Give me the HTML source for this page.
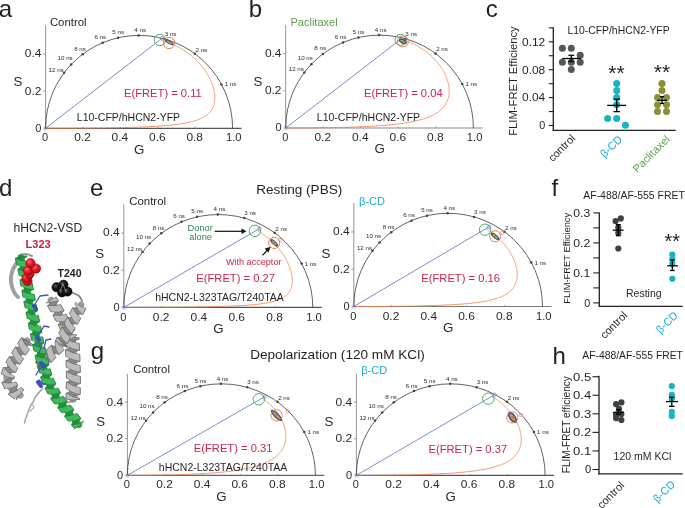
<!DOCTYPE html>
<html><head><meta charset="utf-8"><style>
html,body{margin:0;padding:0;background:#fff;width:685px;height:508px;overflow:hidden}
svg{position:absolute;left:0;top:0;font-family:"Liberation Sans",sans-serif;will-change:transform}
</style></head><body>
<svg width="685" height="508" viewBox="0 0 685 508">
<line x1="45.60" y1="128.30" x2="45.60" y2="25.18" stroke="#8a8a8a" stroke-width="0.9" />
<line x1="43.10" y1="91.14" x2="45.60" y2="91.14" stroke="#808080" stroke-width="0.8" />
<line x1="43.10" y1="53.98" x2="45.60" y2="53.98" stroke="#808080" stroke-width="0.8" />
<line x1="44.60" y1="128.30" x2="241.58" y2="128.30" stroke="#555" stroke-width="1.2" />
<line x1="83.00" y1="128.30" x2="83.00" y2="126.80" stroke="#808080" stroke-width="0.7" />
<line x1="120.40" y1="128.30" x2="120.40" y2="126.80" stroke="#808080" stroke-width="0.7" />
<line x1="157.80" y1="128.30" x2="157.80" y2="126.80" stroke="#808080" stroke-width="0.7" />
<line x1="195.20" y1="128.30" x2="195.20" y2="126.80" stroke="#808080" stroke-width="0.7" />
<text x="45.10" y="141.40" font-size="11" text-anchor="middle" fill="#2a2a2a" font-weight="normal" >0</text>
<text x="82.50" y="141.40" font-size="11" text-anchor="middle" fill="#2a2a2a" font-weight="normal"  textLength="16.6" lengthAdjust="spacingAndGlyphs">0.2</text>
<text x="119.90" y="141.40" font-size="11" text-anchor="middle" fill="#2a2a2a" font-weight="normal"  textLength="16.6" lengthAdjust="spacingAndGlyphs">0.4</text>
<text x="157.30" y="141.40" font-size="11" text-anchor="middle" fill="#2a2a2a" font-weight="normal"  textLength="16.6" lengthAdjust="spacingAndGlyphs">0.6</text>
<text x="194.70" y="141.40" font-size="11" text-anchor="middle" fill="#2a2a2a" font-weight="normal"  textLength="16.6" lengthAdjust="spacingAndGlyphs">0.8</text>
<text x="233.80" y="141.40" font-size="11" text-anchor="middle" fill="#2a2a2a" font-weight="normal"  textLength="15.6" lengthAdjust="spacingAndGlyphs">1.0</text>
<text x="41.40" y="131.70" font-size="11" text-anchor="end" fill="#2a2a2a" font-weight="normal" >0</text>
<text x="41.40" y="94.54" font-size="11" text-anchor="end" fill="#2a2a2a" font-weight="normal"  textLength="16.6" lengthAdjust="spacingAndGlyphs">0.2</text>
<text x="41.40" y="57.38" font-size="11" text-anchor="end" fill="#2a2a2a" font-weight="normal"  textLength="16.6" lengthAdjust="spacingAndGlyphs">0.4</text>
<text x="17.95" y="86.00" font-size="13.3" text-anchor="middle" fill="#2a2a2a" font-weight="normal" >S</text>
<text x="139.10" y="153.70" font-size="13.3" text-anchor="middle" fill="#2a2a2a" font-weight="normal" >G</text>
<path d="M45.60,128.30 A93.50,92.90 0 0 1 232.60,128.30" stroke="#3a3a3a" fill="none" stroke-width="0.8" />
<circle cx="221.49" cy="84.38" r="1.25" fill="#444" stroke="none" stroke-width="1" />
<text x="230.49" y="86.48" font-size="6.2" text-anchor="middle" fill="#2a2a2a" font-weight="normal" >1 ns</text>
<circle cx="194.88" cy="53.74" r="1.25" fill="#444" stroke="none" stroke-width="1" />
<text x="201.38" y="51.64" font-size="6.2" text-anchor="middle" fill="#2a2a2a" font-weight="normal" >2 ns</text>
<circle cx="164.82" cy="38.98" r="1.25" fill="#444" stroke="none" stroke-width="1" />
<text x="170.62" y="36.08" font-size="6.2" text-anchor="middle" fill="#2a2a2a" font-weight="normal" >3 ns</text>
<circle cx="138.60" cy="35.40" r="1.25" fill="#444" stroke="none" stroke-width="1" />
<text x="140.20" y="32.25" font-size="6.2" text-anchor="middle" fill="#2a2a2a" font-weight="normal" >4 ns</text>
<circle cx="118.10" cy="37.77" r="1.25" fill="#444" stroke="none" stroke-width="1" />
<text x="118.20" y="34.27" font-size="6.2" text-anchor="middle" fill="#2a2a2a" font-weight="normal" >5 ns</text>
<circle cx="102.72" cy="42.72" r="1.25" fill="#444" stroke="none" stroke-width="1" />
<text x="100.32" y="39.32" font-size="6.2" text-anchor="middle" fill="#2a2a2a" font-weight="normal" >6 ns</text>
<circle cx="82.68" cy="54.22" r="1.25" fill="#444" stroke="none" stroke-width="1" />
<text x="79.98" y="50.72" font-size="6.2" text-anchor="middle" fill="#2a2a2a" font-weight="normal" >8 ns</text>
<circle cx="71.16" cy="64.48" r="1.25" fill="#444" stroke="none" stroke-width="1" />
<text x="65.16" y="60.38" font-size="6.2" text-anchor="middle" fill="#2a2a2a" font-weight="normal" >10 ns</text>
<circle cx="64.12" cy="72.80" r="1.25" fill="#444" stroke="none" stroke-width="1" />
<text x="56.12" y="71.70" font-size="6.2" text-anchor="middle" fill="#2a2a2a" font-weight="normal" >12 ns</text>
<path d="M160.50,39.80 L160.67,39.85 L160.84,39.89 L161.01,39.94 L161.18,39.99 L161.35,40.04 L161.52,40.09 L161.69,40.14 L161.86,40.19 L162.03,40.24 L162.20,40.29 L162.37,40.34 L162.54,40.39 L162.71,40.45 L162.88,40.50 L163.05,40.55 L163.22,40.60 L163.39,40.66 L163.56,40.71 L163.73,40.77 L163.91,40.82 L164.08,40.88 L164.25,40.93 L164.42,40.99 L164.59,41.05 L164.76,41.10 L164.94,41.16 L165.11,41.22 L165.28,41.28 L165.45,41.34 L165.63,41.40 L165.80,41.46 L165.97,41.52 L166.15,41.58 L166.32,41.64 L166.49,41.70 L166.67,41.76 L166.84,41.83 L167.01,41.89 L167.19,41.95 L167.36,42.02 L167.53,42.08 L167.71,42.15 L167.88,42.21 L168.06,42.28 L168.23,42.35 L168.41,42.41 L168.58,42.48 L168.76,42.55 L168.93,42.62 L169.10,42.69 L169.28,42.75 L169.45,42.82 L169.63,42.89 L169.80,42.97 L169.98,43.04 L170.16,43.11 L170.33,43.18 L170.51,43.25 L170.68,43.33 L170.86,43.40 L171.03,43.47 L171.21,43.55 L171.38,43.62 L171.56,43.70 L171.74,43.78 L171.91,43.85 L172.09,43.93 L172.26,44.01 L172.44,44.08 L172.62,44.16 L172.79,44.24 L172.97,44.32 L173.15,44.40 L173.32,44.48 L173.50,44.56 L173.68,44.65 L173.85,44.73 L174.03,44.81 L174.21,44.89 L174.38,44.98 L174.56,45.06 L174.74,45.15 L174.91,45.23 L175.09,45.32 L175.27,45.40 L175.44,45.49 L175.62,45.58 L175.80,45.67 L175.98,45.75 L176.15,45.84 L176.33,45.93 L176.51,46.02 L176.68,46.11 L176.86,46.21 L177.04,46.30 L177.22,46.39 L177.39,46.48 L177.57,46.58 L177.75,46.67 L177.92,46.76 L178.10,46.86 L178.28,46.95 L178.46,47.05 L178.63,47.15 L178.81,47.24 L178.99,47.34 L179.16,47.44 L179.34,47.54 L179.52,47.64 L179.70,47.74 L179.87,47.84 L180.05,47.94 L180.23,48.04 L180.40,48.14 L180.58,48.25 L180.76,48.35 L180.93,48.45 L181.11,48.56 L181.29,48.66 L181.47,48.77 L181.64,48.87 L181.82,48.98 L182.00,49.09 L182.17,49.20 L182.35,49.30 L182.53,49.41 L182.70,49.52 L182.88,49.63 L183.05,49.74 L183.23,49.85 L183.41,49.97 L183.58,50.08 L183.76,50.19 L183.93,50.31 L184.11,50.42 L184.29,50.53 L184.46,50.65 L184.64,50.77 L184.81,50.88 L184.99,51.00 L185.16,51.12 L185.34,51.24 L185.51,51.35 L185.69,51.47 L185.86,51.59 L186.04,51.71 L186.21,51.84 L186.39,51.96 L186.56,52.08 L186.74,52.20 L186.91,52.33 L187.09,52.45 L187.26,52.58 L187.43,52.70 L187.61,52.83 L187.78,52.96 L187.95,53.08 L188.13,53.21 L188.30,53.34 L188.47,53.47 L188.65,53.60 L188.82,53.73 L188.99,53.86 L189.16,53.99 L189.34,54.12 L189.51,54.26 L189.68,54.39 L189.85,54.52 L190.02,54.66 L190.20,54.79 L190.37,54.93 L190.54,55.07 L190.71,55.20 L190.88,55.34 L191.05,55.48 L191.22,55.62 L191.39,55.76 L191.56,55.90 L191.73,56.04 L191.90,56.18 L192.07,56.32 L192.24,56.47 L192.41,56.61 L192.57,56.75 L192.74,56.90 L192.91,57.04 L193.08,57.19 L193.25,57.34 L193.41,57.48 L193.58,57.63 L193.75,57.78 L193.91,57.93 L194.08,58.08 L194.25,58.23 L194.41,58.38 L194.58,58.53 L194.74,58.69 L194.91,58.84 L195.07,58.99 L195.24,59.15 L195.40,59.30 L195.56,59.46 L195.73,59.61 L195.89,59.77 L196.05,59.93 L196.22,60.09 L196.38,60.24 L196.54,60.40 L196.70,60.56 L196.86,60.72 L197.03,60.89 L197.19,61.05 L197.35,61.21 L197.51,61.37 L197.67,61.54 L197.83,61.70 L197.99,61.87 L198.14,62.03 L198.30,62.20 L198.46,62.37 L198.62,62.53 L198.77,62.70 L198.93,62.87 L199.09,63.04 L199.24,63.21 L199.40,63.38 L199.56,63.55 L199.71,63.73 L199.86,63.90 L200.02,64.07 L200.17,64.25 L200.33,64.42 L200.48,64.60 L200.63,64.77 L200.78,64.95 L200.93,65.13 L201.09,65.31 L201.24,65.48 L201.39,65.66 L201.54,65.84 L201.68,66.02 L201.83,66.21 L201.98,66.39 L202.13,66.57 L202.28,66.75 L202.42,66.94 L202.57,67.12 L202.72,67.31 L202.86,67.49 L203.01,67.68 L203.15,67.87 L203.30,68.05 L203.44,68.24 L203.58,68.43 L203.72,68.62 L203.87,68.81 L204.01,69.00 L204.15,69.19 L204.29,69.39 L204.43,69.58 L204.57,69.77 L204.70,69.97 L204.84,70.16 L204.98,70.36 L205.12,70.55 L205.25,70.75 L205.39,70.95 L205.52,71.15 L205.66,71.34 L205.79,71.54 L205.92,71.74 L206.06,71.94 L206.19,72.14 L206.32,72.35 L206.45,72.55 L206.58,72.75 L206.71,72.95 L206.84,73.16 L206.97,73.36 L207.09,73.57 L207.22,73.78 L207.35,73.98 L207.47,74.19 L207.59,74.40 L207.72,74.61 L207.84,74.82 L207.96,75.03 L208.09,75.24 L208.21,75.45 L208.33,75.66 L208.45,75.87 L208.56,76.08 L208.68,76.30 L208.80,76.51 L208.92,76.73 L209.03,76.94 L209.15,77.16 L209.26,77.37 L209.37,77.59 L209.48,77.81 L209.60,78.03 L209.71,78.25 L209.82,78.46 L209.92,78.69 L210.03,78.91 L210.14,79.13 L210.25,79.35 L210.35,79.57 L210.46,79.79 L210.56,80.02 L210.66,80.24 L210.76,80.47 L210.86,80.69 L210.96,80.92 L211.06,81.15 L211.16,81.37 L211.26,81.60 L211.35,81.83 L211.45,82.06 L211.54,82.29 L211.64,82.52 L211.73,82.75 L211.82,82.98 L211.91,83.21 L212.00,83.44 L212.08,83.68 L212.17,83.91 L212.26,84.14 L212.34,84.38 L212.42,84.61 L212.51,84.85 L212.59,85.08 L212.67,85.32 L212.75,85.56 L212.82,85.80 L212.90,86.03 L212.98,86.27 L213.05,86.51 L213.12,86.75 L213.19,86.99 L213.26,87.23 L213.33,87.47 L213.40,87.72 L213.47,87.96 L213.53,88.20 L213.60,88.45 L213.66,88.69 L213.72,88.93 L213.78,89.18 L213.84,89.43 L213.89,89.67 L213.95,89.92 L214.00,90.17 L214.05,90.41 L214.11,90.66 L214.16,90.91 L214.20,91.16 L214.25,91.41 L214.29,91.66 L214.34,91.91 L214.38,92.16 L214.42,92.41 L214.46,92.66 L214.49,92.92 L214.53,93.17 L214.56,93.42 L214.59,93.68 L214.62,93.93 L214.65,94.19 L214.68,94.44 L214.70,94.70 L214.72,94.95 L214.74,95.21 L214.76,95.47 L214.78,95.72 L214.79,95.98 L214.80,96.24 L214.82,96.50 L214.82,96.76 L214.83,97.02 L214.83,97.28 L214.84,97.54 L214.83,97.80 L214.83,98.06 L214.83,98.32 L214.82,98.58 L214.81,98.85 L214.80,99.11 L214.78,99.37 L214.76,99.63 L214.74,99.90 L214.72,100.16 L214.70,100.43 L214.67,100.69 L214.64,100.96 L214.60,101.22 L214.57,101.49 L214.53,101.76 L214.48,102.02 L214.44,102.29 L214.39,102.56 L214.34,102.83 L214.28,103.09 L214.22,103.36 L214.16,103.63 L214.09,103.90 L214.02,104.17 L213.95,104.44 L213.87,104.71 L213.79,104.98 L213.70,105.25 L213.61,105.52 L213.52,105.80 L213.42,106.07 L213.32,106.34 L213.21,106.61 L213.10,106.88 L212.99,107.16 L212.86,107.43 L212.74,107.70 L212.61,107.98 L212.47,108.25 L212.33,108.52 L212.18,108.80 L212.02,109.07 L211.86,109.35 L211.69,109.62 L211.52,109.90 L211.34,110.17 L211.15,110.45 L210.96,110.72 L210.76,111.00 L210.55,111.28 L210.33,111.55 L210.10,111.83 L209.87,112.10 L209.63,112.38 L209.37,112.66 L209.11,112.94 L208.84,113.21 L208.55,113.49 L208.26,113.77 L207.96,114.04 L207.64,114.32 L207.31,114.60 L206.97,114.88 L206.61,115.15 L206.24,115.43 L205.86,115.71 L205.46,115.99 L205.04,116.27 L204.60,116.54 L204.15,116.82 L203.68,117.10 L203.19,117.38 L202.68,117.65 L202.14,117.93 L201.59,118.21 L201.00,118.48 L200.39,118.76 L199.75,119.04 L199.09,119.32 L198.39,119.59 L197.65,119.87 L196.88,120.14 L196.08,120.42 L195.23,120.69 L194.33,120.97 L193.39,121.24 L192.39,121.52 L191.34,121.79 L190.23,122.06 L189.06,122.33 L187.81,122.60 L186.49,122.87 L185.08,123.14 L183.58,123.41 L181.98,123.68 L180.26,123.94 L178.42,124.21 L176.45,124.47 L174.32,124.73 L172.01,124.99 L169.52,125.25 L166.81,125.50 L163.85,125.75 L160.61,126.00 L157.05,126.24 L153.11,126.48 L148.73,126.71 L143.85,126.94 L138.35,127.16 L132.13,127.37 L125.02,127.57 L116.83,127.75 L107.29,127.92 L96.02,128.07 L82.54,128.19 L66.09,128.27 L45.60,128.30" stroke="#f07a48" fill="none" stroke-width="0.8" />
<line x1="45.60" y1="128.30" x2="162.20" y2="38.10" stroke="#5b6fc8" stroke-width="0.8" />
<circle cx="45.60" cy="128.30" r="1.80" fill="none" stroke="#8a8fd8" stroke-width="0.6" />
<circle cx="162.20" cy="38.10" r="1.70" fill="none" stroke="#6a72d0" stroke-width="0.6" />
<circle cx="159.80" cy="40.00" r="5.70" fill="none" stroke="#3aa55a" stroke-width="0.9" />
<g transform="translate(169.40,42.20) rotate(30)"><ellipse rx="4.75" ry="1.80" fill="#2c44b0"/><ellipse rx="3.42" ry="1.08" fill="#5a9a60"/><ellipse rx="2.61" ry="0.76" fill="#f0a020"/><ellipse rx="1.19" ry="0.45" fill="#e05020"/></g>
<circle cx="169.10" cy="43.00" r="5.60" fill="none" stroke="#f07a48" stroke-width="1.0" />
<line x1="285.70" y1="128.00" x2="285.70" y2="24.88" stroke="#8a8a8a" stroke-width="0.9" />
<line x1="283.20" y1="90.84" x2="285.70" y2="90.84" stroke="#808080" stroke-width="0.8" />
<line x1="283.20" y1="53.68" x2="285.70" y2="53.68" stroke="#808080" stroke-width="0.8" />
<line x1="284.70" y1="128.00" x2="482.41" y2="128.00" stroke="#8a8a8a" stroke-width="1.2" />
<line x1="323.24" y1="128.00" x2="323.24" y2="126.50" stroke="#808080" stroke-width="0.7" />
<line x1="360.78" y1="128.00" x2="360.78" y2="126.50" stroke="#808080" stroke-width="0.7" />
<line x1="398.32" y1="128.00" x2="398.32" y2="126.50" stroke="#808080" stroke-width="0.7" />
<line x1="435.86" y1="128.00" x2="435.86" y2="126.50" stroke="#808080" stroke-width="0.7" />
<text x="285.20" y="141.10" font-size="11" text-anchor="middle" fill="#2a2a2a" font-weight="normal" >0</text>
<text x="322.74" y="141.10" font-size="11" text-anchor="middle" fill="#2a2a2a" font-weight="normal"  textLength="16.6" lengthAdjust="spacingAndGlyphs">0.2</text>
<text x="360.28" y="141.10" font-size="11" text-anchor="middle" fill="#2a2a2a" font-weight="normal"  textLength="16.6" lengthAdjust="spacingAndGlyphs">0.4</text>
<text x="397.82" y="141.10" font-size="11" text-anchor="middle" fill="#2a2a2a" font-weight="normal"  textLength="16.6" lengthAdjust="spacingAndGlyphs">0.6</text>
<text x="435.36" y="141.10" font-size="11" text-anchor="middle" fill="#2a2a2a" font-weight="normal"  textLength="16.6" lengthAdjust="spacingAndGlyphs">0.8</text>
<text x="474.60" y="141.10" font-size="11" text-anchor="middle" fill="#2a2a2a" font-weight="normal"  textLength="15.6" lengthAdjust="spacingAndGlyphs">1.0</text>
<text x="281.50" y="131.40" font-size="11" text-anchor="end" fill="#2a2a2a" font-weight="normal" >0</text>
<text x="281.50" y="94.24" font-size="11" text-anchor="end" fill="#2a2a2a" font-weight="normal"  textLength="16.6" lengthAdjust="spacingAndGlyphs">0.2</text>
<text x="281.50" y="57.08" font-size="11" text-anchor="end" fill="#2a2a2a" font-weight="normal"  textLength="16.6" lengthAdjust="spacingAndGlyphs">0.4</text>
<text x="258.00" y="85.80" font-size="13.3" text-anchor="middle" fill="#2a2a2a" font-weight="normal" >S</text>
<text x="379.55" y="153.40" font-size="13.3" text-anchor="middle" fill="#2a2a2a" font-weight="normal" >G</text>
<path d="M285.70,128.00 A93.85,92.90 0 0 1 473.40,128.00" stroke="#3a3a3a" fill="none" stroke-width="0.8" />
<circle cx="462.25" cy="84.08" r="1.25" fill="#444" stroke="none" stroke-width="1" />
<text x="471.25" y="86.18" font-size="6.2" text-anchor="middle" fill="#2a2a2a" font-weight="normal" >1 ns</text>
<circle cx="435.54" cy="53.44" r="1.25" fill="#444" stroke="none" stroke-width="1" />
<text x="442.04" y="51.34" font-size="6.2" text-anchor="middle" fill="#2a2a2a" font-weight="normal" >2 ns</text>
<circle cx="405.37" cy="38.68" r="1.25" fill="#444" stroke="none" stroke-width="1" />
<text x="411.17" y="35.78" font-size="6.2" text-anchor="middle" fill="#2a2a2a" font-weight="normal" >3 ns</text>
<circle cx="379.05" cy="35.10" r="1.25" fill="#444" stroke="none" stroke-width="1" />
<text x="380.65" y="31.95" font-size="6.2" text-anchor="middle" fill="#2a2a2a" font-weight="normal" >4 ns</text>
<circle cx="358.48" cy="37.47" r="1.25" fill="#444" stroke="none" stroke-width="1" />
<text x="358.58" y="33.97" font-size="6.2" text-anchor="middle" fill="#2a2a2a" font-weight="normal" >5 ns</text>
<circle cx="343.03" cy="42.42" r="1.25" fill="#444" stroke="none" stroke-width="1" />
<text x="340.63" y="39.02" font-size="6.2" text-anchor="middle" fill="#2a2a2a" font-weight="normal" >6 ns</text>
<circle cx="322.92" cy="53.92" r="1.25" fill="#444" stroke="none" stroke-width="1" />
<text x="320.22" y="50.42" font-size="6.2" text-anchor="middle" fill="#2a2a2a" font-weight="normal" >8 ns</text>
<circle cx="311.35" cy="64.18" r="1.25" fill="#444" stroke="none" stroke-width="1" />
<text x="305.35" y="60.08" font-size="6.2" text-anchor="middle" fill="#2a2a2a" font-weight="normal" >10 ns</text>
<circle cx="304.29" cy="72.50" r="1.25" fill="#444" stroke="none" stroke-width="1" />
<text x="296.29" y="71.40" font-size="6.2" text-anchor="middle" fill="#2a2a2a" font-weight="normal" >12 ns</text>
<path d="M401.00,39.20 L401.17,39.25 L401.33,39.30 L401.50,39.35 L401.67,39.40 L401.83,39.45 L402.00,39.50 L402.17,39.56 L402.34,39.61 L402.50,39.66 L402.67,39.71 L402.84,39.77 L403.01,39.82 L403.18,39.88 L403.34,39.93 L403.51,39.99 L403.68,40.04 L403.85,40.10 L404.02,40.16 L404.19,40.21 L404.36,40.27 L404.53,40.33 L404.69,40.39 L404.86,40.45 L405.03,40.51 L405.20,40.57 L405.37,40.63 L405.54,40.69 L405.71,40.75 L405.88,40.81 L406.05,40.87 L406.22,40.93 L406.39,41.00 L406.56,41.06 L406.73,41.13 L406.90,41.19 L407.07,41.25 L407.24,41.32 L407.41,41.39 L407.58,41.45 L407.75,41.52 L407.92,41.59 L408.09,41.65 L408.27,41.72 L408.44,41.79 L408.61,41.86 L408.78,41.93 L408.95,42.00 L409.12,42.07 L409.29,42.14 L409.46,42.21 L409.64,42.29 L409.81,42.36 L409.98,42.43 L410.15,42.50 L410.32,42.58 L410.49,42.65 L410.66,42.73 L410.84,42.80 L411.01,42.88 L411.18,42.96 L411.35,43.03 L411.52,43.11 L411.70,43.19 L411.87,43.27 L412.04,43.35 L412.21,43.43 L412.38,43.51 L412.56,43.59 L412.73,43.67 L412.90,43.75 L413.07,43.83 L413.24,43.92 L413.42,44.00 L413.59,44.08 L413.76,44.17 L413.93,44.25 L414.11,44.34 L414.28,44.42 L414.45,44.51 L414.62,44.60 L414.79,44.68 L414.97,44.77 L415.14,44.86 L415.31,44.95 L415.48,45.04 L415.66,45.13 L415.83,45.22 L416.00,45.31 L416.17,45.40 L416.34,45.49 L416.52,45.59 L416.69,45.68 L416.86,45.77 L417.03,45.87 L417.20,45.96 L417.38,46.06 L417.55,46.15 L417.72,46.25 L417.89,46.35 L418.06,46.45 L418.24,46.54 L418.41,46.64 L418.58,46.74 L418.75,46.84 L418.92,46.94 L419.09,47.04 L419.27,47.15 L419.44,47.25 L419.61,47.35 L419.78,47.45 L419.95,47.56 L420.12,47.66 L420.29,47.77 L420.46,47.87 L420.64,47.98 L420.81,48.09 L420.98,48.19 L421.15,48.30 L421.32,48.41 L421.49,48.52 L421.66,48.63 L421.83,48.74 L422.00,48.85 L422.17,48.96 L422.34,49.07 L422.51,49.19 L422.68,49.30 L422.85,49.41 L423.02,49.53 L423.19,49.64 L423.36,49.76 L423.53,49.87 L423.70,49.99 L423.86,50.11 L424.03,50.23 L424.20,50.34 L424.37,50.46 L424.54,50.58 L424.71,50.70 L424.87,50.83 L425.04,50.95 L425.21,51.07 L425.38,51.19 L425.55,51.31 L425.71,51.44 L425.88,51.56 L426.05,51.69 L426.21,51.81 L426.38,51.94 L426.55,52.07 L426.71,52.20 L426.88,52.32 L427.04,52.45 L427.21,52.58 L427.37,52.71 L427.54,52.84 L427.70,52.97 L427.87,53.11 L428.03,53.24 L428.20,53.37 L428.36,53.51 L428.53,53.64 L428.69,53.78 L428.85,53.91 L429.02,54.05 L429.18,54.18 L429.34,54.32 L429.50,54.46 L429.66,54.60 L429.83,54.74 L429.99,54.88 L430.15,55.02 L430.31,55.16 L430.47,55.30 L430.63,55.45 L430.79,55.59 L430.95,55.73 L431.11,55.88 L431.27,56.02 L431.43,56.17 L431.59,56.32 L431.75,56.46 L431.91,56.61 L432.06,56.76 L432.22,56.91 L432.38,57.06 L432.53,57.21 L432.69,57.36 L432.85,57.51 L433.00,57.66 L433.16,57.82 L433.31,57.97 L433.47,58.12 L433.62,58.28 L433.78,58.43 L433.93,58.59 L434.08,58.75 L434.24,58.90 L434.39,59.06 L434.54,59.22 L434.69,59.38 L434.84,59.54 L435.00,59.70 L435.15,59.86 L435.30,60.02 L435.45,60.19 L435.60,60.35 L435.74,60.51 L435.89,60.68 L436.04,60.84 L436.19,61.01 L436.34,61.18 L436.48,61.34 L436.63,61.51 L436.77,61.68 L436.92,61.85 L437.06,62.02 L437.21,62.19 L437.35,62.36 L437.50,62.53 L437.64,62.70 L437.78,62.88 L437.92,63.05 L438.06,63.23 L438.21,63.40 L438.35,63.58 L438.49,63.75 L438.62,63.93 L438.76,64.11 L438.90,64.29 L439.04,64.46 L439.18,64.64 L439.31,64.82 L439.45,65.00 L439.58,65.19 L439.72,65.37 L439.85,65.55 L439.99,65.74 L440.12,65.92 L440.25,66.10 L440.38,66.29 L440.52,66.48 L440.65,66.66 L440.78,66.85 L440.91,67.04 L441.03,67.23 L441.16,67.42 L441.29,67.61 L441.42,67.80 L441.54,67.99 L441.67,68.18 L441.79,68.37 L441.92,68.57 L442.04,68.76 L442.16,68.95 L442.28,69.15 L442.40,69.35 L442.52,69.54 L442.64,69.74 L442.76,69.94 L442.88,70.14 L443.00,70.33 L443.12,70.53 L443.23,70.73 L443.35,70.94 L443.46,71.14 L443.57,71.34 L443.69,71.54 L443.80,71.75 L443.91,71.95 L444.02,72.15 L444.13,72.36 L444.24,72.57 L444.35,72.77 L444.45,72.98 L444.56,73.19 L444.66,73.40 L444.77,73.61 L444.87,73.82 L444.97,74.03 L445.08,74.24 L445.18,74.45 L445.28,74.66 L445.37,74.87 L445.47,75.09 L445.57,75.30 L445.66,75.52 L445.76,75.73 L445.85,75.95 L445.95,76.17 L446.04,76.38 L446.13,76.60 L446.22,76.82 L446.31,77.04 L446.39,77.26 L446.48,77.48 L446.57,77.70 L446.65,77.92 L446.73,78.14 L446.81,78.37 L446.90,78.59 L446.98,78.81 L447.05,79.04 L447.13,79.26 L447.21,79.49 L447.28,79.72 L447.36,79.94 L447.43,80.17 L447.50,80.40 L447.57,80.63 L447.64,80.86 L447.71,81.09 L447.77,81.32 L447.84,81.55 L447.90,81.78 L447.97,82.01 L448.03,82.24 L448.09,82.48 L448.15,82.71 L448.20,82.94 L448.26,83.18 L448.31,83.42 L448.36,83.65 L448.42,83.89 L448.47,84.13 L448.51,84.36 L448.56,84.60 L448.61,84.84 L448.65,85.08 L448.69,85.32 L448.73,85.56 L448.77,85.80 L448.81,86.04 L448.85,86.28 L448.88,86.53 L448.91,86.77 L448.94,87.01 L448.97,87.26 L449.00,87.50 L449.02,87.75 L449.05,87.99 L449.07,88.24 L449.09,88.49 L449.11,88.73 L449.13,88.98 L449.14,89.23 L449.15,89.48 L449.16,89.73 L449.17,89.98 L449.18,90.23 L449.18,90.48 L449.19,90.73 L449.19,90.98 L449.19,91.23 L449.18,91.49 L449.18,91.74 L449.17,91.99 L449.16,92.25 L449.14,92.50 L449.13,92.76 L449.11,93.01 L449.09,93.27 L449.07,93.52 L449.05,93.78 L449.02,94.04 L448.99,94.30 L448.96,94.55 L448.92,94.81 L448.89,95.07 L448.85,95.33 L448.80,95.59 L448.76,95.85 L448.71,96.11 L448.66,96.37 L448.60,96.63 L448.55,96.90 L448.49,97.16 L448.42,97.42 L448.36,97.68 L448.29,97.95 L448.22,98.21 L448.14,98.47 L448.06,98.74 L447.98,99.00 L447.89,99.27 L447.80,99.53 L447.71,99.80 L447.61,100.07 L447.51,100.33 L447.41,100.60 L447.30,100.87 L447.19,101.14 L447.07,101.40 L446.95,101.67 L446.83,101.94 L446.70,102.21 L446.57,102.48 L446.43,102.75 L446.29,103.02 L446.14,103.29 L445.99,103.56 L445.83,103.83 L445.67,104.10 L445.50,104.37 L445.33,104.64 L445.16,104.91 L444.97,105.18 L444.78,105.46 L444.59,105.73 L444.39,106.00 L444.18,106.27 L443.97,106.55 L443.75,106.82 L443.53,107.09 L443.30,107.37 L443.06,107.64 L442.81,107.91 L442.56,108.19 L442.30,108.46 L442.03,108.74 L441.76,109.01 L441.48,109.28 L441.18,109.56 L440.88,109.83 L440.58,110.11 L440.26,110.38 L439.93,110.66 L439.59,110.93 L439.25,111.21 L438.89,111.48 L438.52,111.76 L438.14,112.03 L437.75,112.31 L437.35,112.58 L436.94,112.86 L436.51,113.13 L436.07,113.41 L435.62,113.68 L435.15,113.96 L434.67,114.23 L434.18,114.51 L433.67,114.78 L433.14,115.05 L432.60,115.33 L432.04,115.60 L431.46,115.88 L430.86,116.15 L430.24,116.42 L429.60,116.70 L428.94,116.97 L428.26,117.24 L427.56,117.51 L426.83,117.78 L426.07,118.05 L425.29,118.32 L424.48,118.59 L423.64,118.86 L422.77,119.13 L421.87,119.40 L420.94,119.67 L419.96,119.93 L418.95,120.20 L417.91,120.47 L416.81,120.73 L415.68,120.99 L414.50,121.25 L413.26,121.52 L411.98,121.78 L410.64,122.03 L409.23,122.29 L407.77,122.55 L406.24,122.80 L404.63,123.05 L402.95,123.30 L401.18,123.55 L399.32,123.80 L397.37,124.04 L395.32,124.29 L393.15,124.52 L390.86,124.76 L388.44,124.99 L385.88,125.22 L383.16,125.45 L380.27,125.67 L377.20,125.89 L373.92,126.10 L370.42,126.30 L366.67,126.50 L362.65,126.70 L358.31,126.88 L353.64,127.06 L348.57,127.23 L343.08,127.38 L337.08,127.53 L330.53,127.65 L323.33,127.77 L315.38,127.86 L306.57,127.94 L296.74,127.98 L285.70,128.00" stroke="#f07a48" fill="none" stroke-width="0.8" />
<line x1="285.70" y1="128.00" x2="401.50" y2="38.60" stroke="#5b6fc8" stroke-width="0.8" />
<circle cx="285.70" cy="128.00" r="1.80" fill="none" stroke="#8a8fd8" stroke-width="0.6" />
<circle cx="401.50" cy="38.60" r="1.70" fill="none" stroke="#6a72d0" stroke-width="0.6" />
<circle cx="400.50" cy="39.80" r="5.50" fill="none" stroke="#3aa55a" stroke-width="0.9" />
<g transform="translate(402.80,41.40) rotate(25)"><ellipse rx="4.25" ry="2.25" fill="#2c44b0"/><ellipse rx="3.06" ry="1.35" fill="#5a9a60"/><ellipse rx="2.34" ry="0.94" fill="#f0a020"/><ellipse rx="1.06" ry="0.56" fill="#e05020"/></g>
<circle cx="402.80" cy="41.40" r="5.50" fill="none" stroke="#f07a48" stroke-width="1.0" />
<line x1="123.80" y1="307.40" x2="123.80" y2="204.28" stroke="#8a8a8a" stroke-width="0.9" />
<line x1="121.30" y1="270.24" x2="123.80" y2="270.24" stroke="#808080" stroke-width="0.8" />
<line x1="121.30" y1="233.08" x2="123.80" y2="233.08" stroke="#808080" stroke-width="0.8" />
<line x1="122.80" y1="307.40" x2="321.87" y2="307.40" stroke="#555" stroke-width="1.2" />
<line x1="161.60" y1="307.40" x2="161.60" y2="305.90" stroke="#808080" stroke-width="0.7" />
<line x1="199.40" y1="307.40" x2="199.40" y2="305.90" stroke="#808080" stroke-width="0.7" />
<line x1="237.20" y1="307.40" x2="237.20" y2="305.90" stroke="#808080" stroke-width="0.7" />
<line x1="275.00" y1="307.40" x2="275.00" y2="305.90" stroke="#808080" stroke-width="0.7" />
<text x="123.30" y="320.50" font-size="11" text-anchor="middle" fill="#2a2a2a" font-weight="normal" >0</text>
<text x="161.10" y="320.50" font-size="11" text-anchor="middle" fill="#2a2a2a" font-weight="normal"  textLength="16.6" lengthAdjust="spacingAndGlyphs">0.2</text>
<text x="198.90" y="320.50" font-size="11" text-anchor="middle" fill="#2a2a2a" font-weight="normal"  textLength="16.6" lengthAdjust="spacingAndGlyphs">0.4</text>
<text x="236.70" y="320.50" font-size="11" text-anchor="middle" fill="#2a2a2a" font-weight="normal"  textLength="16.6" lengthAdjust="spacingAndGlyphs">0.6</text>
<text x="274.50" y="320.50" font-size="11" text-anchor="middle" fill="#2a2a2a" font-weight="normal"  textLength="16.6" lengthAdjust="spacingAndGlyphs">0.8</text>
<text x="314.00" y="320.50" font-size="11" text-anchor="middle" fill="#2a2a2a" font-weight="normal"  textLength="15.6" lengthAdjust="spacingAndGlyphs">1.0</text>
<text x="119.60" y="310.80" font-size="11" text-anchor="end" fill="#2a2a2a" font-weight="normal" >0</text>
<text x="119.60" y="273.64" font-size="11" text-anchor="end" fill="#2a2a2a" font-weight="normal"  textLength="16.6" lengthAdjust="spacingAndGlyphs">0.2</text>
<text x="119.60" y="236.48" font-size="11" text-anchor="end" fill="#2a2a2a" font-weight="normal"  textLength="16.6" lengthAdjust="spacingAndGlyphs">0.4</text>
<text x="99.75" y="257.80" font-size="13.3" text-anchor="middle" fill="#2a2a2a" font-weight="normal" >S</text>
<text x="218.30" y="332.80" font-size="13.3" text-anchor="middle" fill="#2a2a2a" font-weight="normal" >G</text>
<path d="M123.80,307.40 A94.50,92.90 0 0 1 312.80,307.40" stroke="#3a3a3a" fill="none" stroke-width="0.8" />
<circle cx="301.57" cy="263.48" r="1.25" fill="#444" stroke="none" stroke-width="1" />
<text x="310.57" y="265.58" font-size="6.2" text-anchor="middle" fill="#2a2a2a" font-weight="normal" >1 ns</text>
<circle cx="274.68" cy="232.84" r="1.25" fill="#444" stroke="none" stroke-width="1" />
<text x="281.18" y="230.74" font-size="6.2" text-anchor="middle" fill="#2a2a2a" font-weight="normal" >2 ns</text>
<circle cx="244.30" cy="218.08" r="1.25" fill="#444" stroke="none" stroke-width="1" />
<text x="250.10" y="215.18" font-size="6.2" text-anchor="middle" fill="#2a2a2a" font-weight="normal" >3 ns</text>
<circle cx="217.80" cy="214.50" r="1.25" fill="#444" stroke="none" stroke-width="1" />
<text x="219.40" y="211.35" font-size="6.2" text-anchor="middle" fill="#2a2a2a" font-weight="normal" >4 ns</text>
<circle cx="197.08" cy="216.87" r="1.25" fill="#444" stroke="none" stroke-width="1" />
<text x="197.18" y="213.37" font-size="6.2" text-anchor="middle" fill="#2a2a2a" font-weight="normal" >5 ns</text>
<circle cx="181.53" cy="221.82" r="1.25" fill="#444" stroke="none" stroke-width="1" />
<text x="179.13" y="218.42" font-size="6.2" text-anchor="middle" fill="#2a2a2a" font-weight="normal" >6 ns</text>
<circle cx="161.28" cy="233.32" r="1.25" fill="#444" stroke="none" stroke-width="1" />
<text x="158.58" y="229.82" font-size="6.2" text-anchor="middle" fill="#2a2a2a" font-weight="normal" >8 ns</text>
<circle cx="149.63" cy="243.58" r="1.25" fill="#444" stroke="none" stroke-width="1" />
<text x="143.63" y="239.48" font-size="6.2" text-anchor="middle" fill="#2a2a2a" font-weight="normal" >10 ns</text>
<circle cx="142.52" cy="251.90" r="1.25" fill="#444" stroke="none" stroke-width="1" />
<text x="134.52" y="250.80" font-size="6.2" text-anchor="middle" fill="#2a2a2a" font-weight="normal" >12 ns</text>
<path d="M256.80,230.20 L256.93,230.28 L257.07,230.35 L257.20,230.43 L257.33,230.51 L257.47,230.59 L257.60,230.67 L257.74,230.75 L257.87,230.82 L258.00,230.90 L258.14,230.98 L258.27,231.06 L258.40,231.14 L258.54,231.23 L258.67,231.31 L258.80,231.39 L258.94,231.47 L259.07,231.55 L259.20,231.63 L259.34,231.72 L259.47,231.80 L259.60,231.88 L259.74,231.97 L259.87,232.05 L260.00,232.14 L260.14,232.22 L260.27,232.31 L260.40,232.39 L260.54,232.48 L260.67,232.56 L260.80,232.65 L260.93,232.74 L261.07,232.82 L261.20,232.91 L261.33,233.00 L261.46,233.09 L261.60,233.17 L261.73,233.26 L261.86,233.35 L261.99,233.44 L262.13,233.53 L262.26,233.62 L262.39,233.71 L262.52,233.80 L262.66,233.89 L262.79,233.99 L262.92,234.08 L263.05,234.17 L263.18,234.26 L263.32,234.35 L263.45,234.45 L263.58,234.54 L263.71,234.63 L263.84,234.73 L263.97,234.82 L264.11,234.92 L264.24,235.01 L264.37,235.11 L264.50,235.20 L264.63,235.30 L264.76,235.40 L264.89,235.49 L265.02,235.59 L265.15,235.69 L265.28,235.79 L265.42,235.89 L265.55,235.98 L265.68,236.08 L265.81,236.18 L265.94,236.28 L266.07,236.38 L266.20,236.48 L266.33,236.58 L266.46,236.68 L266.59,236.79 L266.72,236.89 L266.85,236.99 L266.98,237.09 L267.11,237.19 L267.23,237.30 L267.36,237.40 L267.49,237.51 L267.62,237.61 L267.75,237.71 L267.88,237.82 L268.01,237.92 L268.14,238.03 L268.27,238.14 L268.39,238.24 L268.52,238.35 L268.65,238.46 L268.78,238.56 L268.91,238.67 L269.03,238.78 L269.16,238.89 L269.29,239.00 L269.42,239.11 L269.54,239.22 L269.67,239.32 L269.80,239.44 L269.92,239.55 L270.05,239.66 L270.18,239.77 L270.30,239.88 L270.43,239.99 L270.56,240.10 L270.68,240.22 L270.81,240.33 L270.93,240.44 L271.06,240.56 L271.18,240.67 L271.31,240.79 L271.43,240.90 L271.56,241.02 L271.68,241.13 L271.81,241.25 L271.93,241.36 L272.06,241.48 L272.18,241.60 L272.31,241.72 L272.43,241.83 L272.55,241.95 L272.68,242.07 L272.80,242.19 L272.92,242.31 L273.05,242.43 L273.17,242.55 L273.29,242.67 L273.42,242.79 L273.54,242.91 L273.66,243.03 L273.78,243.15 L273.90,243.27 L274.02,243.40 L274.15,243.52 L274.27,243.64 L274.39,243.77 L274.51,243.89 L274.63,244.01 L274.75,244.14 L274.87,244.26 L274.99,244.39 L275.11,244.51 L275.23,244.64 L275.35,244.77 L275.47,244.89 L275.59,245.02 L275.71,245.15 L275.83,245.28 L275.94,245.40 L276.06,245.53 L276.18,245.66 L276.30,245.79 L276.42,245.92 L276.53,246.05 L276.65,246.18 L276.77,246.31 L276.88,246.44 L277.00,246.58 L277.12,246.71 L277.23,246.84 L277.35,246.97 L277.46,247.10 L277.58,247.24 L277.69,247.37 L277.81,247.51 L277.92,247.64 L278.04,247.77 L278.15,247.91 L278.27,248.05 L278.38,248.18 L278.49,248.32 L278.60,248.45 L278.72,248.59 L278.83,248.73 L278.94,248.87 L279.05,249.00 L279.17,249.14 L279.28,249.28 L279.39,249.42 L279.50,249.56 L279.61,249.70 L279.72,249.84 L279.83,249.98 L279.94,250.12 L280.05,250.26 L280.16,250.40 L280.27,250.55 L280.38,250.69 L280.49,250.83 L280.59,250.97 L280.70,251.12 L280.81,251.26 L280.92,251.40 L281.02,251.55 L281.13,251.69 L281.24,251.84 L281.34,251.98 L281.45,252.13 L281.55,252.28 L281.66,252.42 L281.76,252.57 L281.87,252.72 L281.97,252.86 L282.08,253.01 L282.18,253.16 L282.28,253.31 L282.38,253.46 L282.49,253.61 L282.59,253.76 L282.69,253.91 L282.79,254.06 L282.89,254.21 L282.99,254.36 L283.09,254.51 L283.19,254.66 L283.29,254.82 L283.39,254.97 L283.49,255.12 L283.59,255.27 L283.69,255.43 L283.79,255.58 L283.89,255.74 L283.98,255.89 L284.08,256.05 L284.18,256.20 L284.27,256.36 L284.37,256.51 L284.46,256.67 L284.56,256.82 L284.65,256.98 L284.75,257.14 L284.84,257.30 L284.93,257.45 L285.03,257.61 L285.12,257.77 L285.21,257.93 L285.30,258.09 L285.39,258.25 L285.49,258.41 L285.58,258.57 L285.67,258.73 L285.76,258.89 L285.84,259.05 L285.93,259.22 L286.02,259.38 L286.11,259.54 L286.20,259.70 L286.28,259.87 L286.37,260.03 L286.46,260.19 L286.54,260.36 L286.63,260.52 L286.71,260.69 L286.80,260.85 L286.88,261.02 L286.96,261.18 L287.05,261.35 L287.13,261.51 L287.21,261.68 L287.29,261.85 L287.37,262.02 L287.45,262.18 L287.53,262.35 L287.61,262.52 L287.69,262.69 L287.77,262.86 L287.85,263.03 L287.93,263.20 L288.00,263.37 L288.08,263.54 L288.16,263.71 L288.23,263.88 L288.31,264.05 L288.38,264.22 L288.46,264.39 L288.53,264.56 L288.60,264.74 L288.67,264.91 L288.75,265.08 L288.82,265.25 L288.89,265.43 L288.96,265.60 L289.03,265.78 L289.10,265.95 L289.16,266.13 L289.23,266.30 L289.30,266.48 L289.37,266.65 L289.43,266.83 L289.50,267.00 L289.56,267.18 L289.63,267.36 L289.69,267.54 L289.75,267.71 L289.81,267.89 L289.88,268.07 L289.94,268.25 L290.00,268.43 L290.06,268.61 L290.12,268.78 L290.17,268.96 L290.23,269.14 L290.29,269.32 L290.35,269.50 L290.40,269.69 L290.46,269.87 L290.51,270.05 L290.56,270.23 L290.62,270.41 L290.67,270.59 L290.72,270.78 L290.77,270.96 L290.82,271.14 L290.87,271.32 L290.92,271.51 L290.97,271.69 L291.01,271.88 L291.06,272.06 L291.11,272.25 L291.15,272.43 L291.19,272.62 L291.24,272.80 L291.28,272.99 L291.32,273.17 L291.36,273.36 L291.40,273.54 L291.44,273.73 L291.48,273.92 L291.52,274.11 L291.55,274.29 L291.59,274.48 L291.62,274.67 L291.66,274.86 L291.69,275.05 L291.72,275.23 L291.75,275.42 L291.78,275.61 L291.81,275.80 L291.84,275.99 L291.87,276.18 L291.89,276.37 L291.92,276.56 L291.94,276.75 L291.97,276.94 L291.99,277.14 L292.01,277.33 L292.03,277.52 L292.05,277.71 L292.07,277.90 L292.08,278.10 L292.10,278.29 L292.11,278.48 L292.13,278.67 L292.14,278.87 L292.15,279.06 L292.16,279.25 L292.17,279.45 L292.18,279.64 L292.19,279.84 L292.19,280.03 L292.19,280.23 L292.20,280.42 L292.20,280.62 L292.20,280.81 L292.20,281.01 L292.20,281.20 L292.19,281.40 L292.19,281.60 L292.18,281.79 L292.17,281.99 L292.16,282.19 L292.15,282.38 L292.14,282.58 L292.12,282.78 L292.11,282.98 L292.09,283.17 L292.07,283.37 L292.05,283.57 L292.03,283.77 L292.00,283.97 L291.98,284.17 L291.95,284.37 L291.92,284.56 L291.89,284.76 L291.86,284.96 L291.82,285.16 L291.79,285.36 L291.75,285.56 L291.71,285.76 L291.66,285.96 L291.62,286.16 L291.57,286.37 L291.52,286.57 L291.47,286.77 L291.42,286.97 L291.36,287.17 L291.30,287.37 L291.24,287.57 L291.18,287.77 L291.11,287.98 L291.04,288.18 L290.97,288.38 L290.90,288.58 L290.82,288.79 L290.74,288.99 L290.66,289.19 L290.57,289.39 L290.48,289.60 L290.39,289.80 L290.30,290.00 L290.20,290.21 L290.09,290.41 L289.99,290.62 L289.88,290.82 L289.77,291.02 L289.65,291.23 L289.53,291.43 L289.40,291.64 L289.28,291.84 L289.14,292.04 L289.00,292.25 L288.86,292.45 L288.71,292.66 L288.56,292.86 L288.41,293.07 L288.24,293.27 L288.08,293.48 L287.90,293.68 L287.72,293.89 L287.54,294.09 L287.35,294.30 L287.15,294.51 L286.94,294.71 L286.73,294.92 L286.51,295.12 L286.29,295.33 L286.05,295.53 L285.81,295.74 L285.56,295.94 L285.30,296.15 L285.03,296.36 L284.75,296.56 L284.47,296.77 L284.17,296.97 L283.86,297.18 L283.54,297.39 L283.20,297.59 L282.86,297.80 L282.50,298.00 L282.13,298.21 L281.74,298.42 L281.34,298.62 L280.92,298.83 L280.48,299.03 L280.03,299.24 L279.55,299.44 L279.06,299.65 L278.55,299.85 L278.01,300.06 L277.45,300.27 L276.86,300.47 L276.25,300.67 L275.61,300.88 L274.93,301.08 L274.22,301.29 L273.48,301.49 L272.70,301.70 L271.88,301.90 L271.01,302.10 L270.10,302.30 L269.13,302.51 L268.11,302.71 L267.03,302.91 L265.88,303.11 L264.66,303.31 L263.36,303.51 L261.97,303.71 L260.49,303.91 L258.90,304.11 L257.19,304.30 L255.35,304.50 L253.37,304.69 L251.22,304.89 L248.88,305.08 L246.34,305.27 L243.55,305.45 L240.49,305.64 L237.10,305.82 L233.35,306.00 L229.16,306.18 L224.46,306.35 L219.14,306.51 L213.07,306.67 L206.08,306.83 L197.96,306.97 L188.39,307.10 L176.96,307.21 L163.07,307.31 L145.81,307.37 L123.80,307.40" stroke="#f07a48" fill="none" stroke-width="0.8" />
<line x1="123.80" y1="307.40" x2="259.50" y2="228.60" stroke="#5b6fc8" stroke-width="0.8" />
<circle cx="123.80" cy="307.40" r="1.80" fill="none" stroke="#8a8fd8" stroke-width="0.6" />
<circle cx="259.50" cy="228.60" r="1.70" fill="none" stroke="#6a72d0" stroke-width="0.6" />
<circle cx="280.00" cy="240.10" r="1.70" fill="none" stroke="#f07a48" stroke-width="0.6" />
<circle cx="254.90" cy="230.90" r="5.70" fill="none" stroke="#3aa55a" stroke-width="0.9" />
<g transform="translate(274.20,242.90) rotate(44)"><ellipse rx="5.00" ry="1.90" fill="#2c44b0"/><ellipse rx="3.60" ry="1.14" fill="#5a9a60"/><ellipse rx="2.75" ry="0.80" fill="#f0a020"/><ellipse rx="1.25" ry="0.47" fill="#e05020"/></g>
<circle cx="274.20" cy="242.90" r="5.60" fill="none" stroke="#f07a48" stroke-width="1.0" />
<line x1="353.80" y1="306.50" x2="353.80" y2="203.05" stroke="#8a8a8a" stroke-width="0.9" />
<line x1="351.30" y1="269.22" x2="353.80" y2="269.22" stroke="#808080" stroke-width="0.8" />
<line x1="351.30" y1="231.94" x2="353.80" y2="231.94" stroke="#808080" stroke-width="0.8" />
<line x1="352.80" y1="306.50" x2="551.56" y2="306.50" stroke="#7a7a7a" stroke-width="1.2" />
<line x1="391.54" y1="306.50" x2="391.54" y2="305.00" stroke="#808080" stroke-width="0.7" />
<line x1="429.28" y1="306.50" x2="429.28" y2="305.00" stroke="#808080" stroke-width="0.7" />
<line x1="467.02" y1="306.50" x2="467.02" y2="305.00" stroke="#808080" stroke-width="0.7" />
<line x1="504.76" y1="306.50" x2="504.76" y2="305.00" stroke="#808080" stroke-width="0.7" />
<text x="353.30" y="319.60" font-size="11" text-anchor="middle" fill="#2a2a2a" font-weight="normal" >0</text>
<text x="391.04" y="319.60" font-size="11" text-anchor="middle" fill="#2a2a2a" font-weight="normal"  textLength="16.6" lengthAdjust="spacingAndGlyphs">0.2</text>
<text x="428.78" y="319.60" font-size="11" text-anchor="middle" fill="#2a2a2a" font-weight="normal"  textLength="16.6" lengthAdjust="spacingAndGlyphs">0.4</text>
<text x="466.52" y="319.60" font-size="11" text-anchor="middle" fill="#2a2a2a" font-weight="normal"  textLength="16.6" lengthAdjust="spacingAndGlyphs">0.6</text>
<text x="504.26" y="319.60" font-size="11" text-anchor="middle" fill="#2a2a2a" font-weight="normal"  textLength="16.6" lengthAdjust="spacingAndGlyphs">0.8</text>
<text x="543.70" y="319.60" font-size="11" text-anchor="middle" fill="#2a2a2a" font-weight="normal"  textLength="15.6" lengthAdjust="spacingAndGlyphs">1.0</text>
<text x="349.60" y="309.90" font-size="11" text-anchor="end" fill="#2a2a2a" font-weight="normal" >0</text>
<text x="349.60" y="272.62" font-size="11" text-anchor="end" fill="#2a2a2a" font-weight="normal"  textLength="16.6" lengthAdjust="spacingAndGlyphs">0.2</text>
<text x="349.60" y="235.34" font-size="11" text-anchor="end" fill="#2a2a2a" font-weight="normal"  textLength="16.6" lengthAdjust="spacingAndGlyphs">0.4</text>
<text x="325.95" y="257.90" font-size="13.3" text-anchor="middle" fill="#2a2a2a" font-weight="normal" >S</text>
<text x="448.15" y="331.90" font-size="13.3" text-anchor="middle" fill="#2a2a2a" font-weight="normal" >G</text>
<path d="M353.80,306.50 A94.35,93.20 0 0 1 542.50,306.50" stroke="#3a3a3a" fill="none" stroke-width="0.8" />
<circle cx="531.29" cy="262.44" r="1.25" fill="#444" stroke="none" stroke-width="1" />
<text x="540.29" y="264.54" font-size="6.2" text-anchor="middle" fill="#2a2a2a" font-weight="normal" >1 ns</text>
<circle cx="504.44" cy="231.70" r="1.25" fill="#444" stroke="none" stroke-width="1" />
<text x="510.94" y="229.60" font-size="6.2" text-anchor="middle" fill="#2a2a2a" font-weight="normal" >2 ns</text>
<circle cx="474.11" cy="216.90" r="1.25" fill="#444" stroke="none" stroke-width="1" />
<text x="479.91" y="214.00" font-size="6.2" text-anchor="middle" fill="#2a2a2a" font-weight="normal" >3 ns</text>
<circle cx="447.65" cy="213.30" r="1.25" fill="#444" stroke="none" stroke-width="1" />
<text x="449.25" y="210.15" font-size="6.2" text-anchor="middle" fill="#2a2a2a" font-weight="normal" >4 ns</text>
<circle cx="426.96" cy="215.68" r="1.25" fill="#444" stroke="none" stroke-width="1" />
<text x="427.06" y="212.18" font-size="6.2" text-anchor="middle" fill="#2a2a2a" font-weight="normal" >5 ns</text>
<circle cx="411.44" cy="220.65" r="1.25" fill="#444" stroke="none" stroke-width="1" />
<text x="409.04" y="217.25" font-size="6.2" text-anchor="middle" fill="#2a2a2a" font-weight="normal" >6 ns</text>
<circle cx="391.22" cy="232.18" r="1.25" fill="#444" stroke="none" stroke-width="1" />
<text x="388.52" y="228.68" font-size="6.2" text-anchor="middle" fill="#2a2a2a" font-weight="normal" >8 ns</text>
<circle cx="379.59" cy="242.47" r="1.25" fill="#444" stroke="none" stroke-width="1" />
<text x="373.59" y="238.37" font-size="6.2" text-anchor="middle" fill="#2a2a2a" font-weight="normal" >10 ns</text>
<circle cx="372.49" cy="250.82" r="1.25" fill="#444" stroke="none" stroke-width="1" />
<text x="364.49" y="249.72" font-size="6.2" text-anchor="middle" fill="#2a2a2a" font-weight="normal" >12 ns</text>
<path d="M486.00,229.00 L486.13,229.08 L486.26,229.16 L486.39,229.24 L486.52,229.32 L486.65,229.40 L486.78,229.48 L486.91,229.56 L487.05,229.64 L487.18,229.72 L487.31,229.80 L487.44,229.88 L487.57,229.96 L487.70,230.05 L487.83,230.13 L487.96,230.21 L488.09,230.30 L488.22,230.38 L488.35,230.46 L488.48,230.55 L488.61,230.63 L488.74,230.72 L488.87,230.80 L489.00,230.89 L489.13,230.97 L489.26,231.06 L489.39,231.15 L489.52,231.24 L489.65,231.32 L489.78,231.41 L489.90,231.50 L490.03,231.59 L490.16,231.68 L490.29,231.76 L490.42,231.85 L490.55,231.94 L490.68,232.03 L490.81,232.12 L490.94,232.22 L491.07,232.31 L491.19,232.40 L491.32,232.49 L491.45,232.58 L491.58,232.68 L491.71,232.77 L491.84,232.86 L491.96,232.95 L492.09,233.05 L492.22,233.14 L492.35,233.24 L492.48,233.33 L492.60,233.43 L492.73,233.52 L492.86,233.62 L492.99,233.72 L493.11,233.81 L493.24,233.91 L493.37,234.01 L493.50,234.11 L493.62,234.20 L493.75,234.30 L493.88,234.40 L494.00,234.50 L494.13,234.60 L494.26,234.70 L494.38,234.80 L494.51,234.90 L494.64,235.00 L494.76,235.10 L494.89,235.20 L495.01,235.31 L495.14,235.41 L495.26,235.51 L495.39,235.61 L495.51,235.72 L495.64,235.82 L495.77,235.93 L495.89,236.03 L496.01,236.13 L496.14,236.24 L496.26,236.35 L496.39,236.45 L496.51,236.56 L496.64,236.66 L496.76,236.77 L496.88,236.88 L497.01,236.99 L497.13,237.09 L497.25,237.20 L497.38,237.31 L497.50,237.42 L497.62,237.53 L497.75,237.64 L497.87,237.75 L497.99,237.86 L498.11,237.97 L498.24,238.08 L498.36,238.20 L498.48,238.31 L498.60,238.42 L498.72,238.53 L498.85,238.65 L498.97,238.76 L499.09,238.87 L499.21,238.99 L499.33,239.10 L499.45,239.22 L499.57,239.33 L499.69,239.45 L499.81,239.56 L499.93,239.68 L500.05,239.80 L500.17,239.91 L500.29,240.03 L500.41,240.15 L500.53,240.27 L500.64,240.39 L500.76,240.51 L500.88,240.63 L501.00,240.74 L501.12,240.87 L501.23,240.99 L501.35,241.11 L501.47,241.23 L501.59,241.35 L501.70,241.47 L501.82,241.59 L501.94,241.72 L502.05,241.84 L502.17,241.96 L502.28,242.09 L502.40,242.21 L502.51,242.33 L502.63,242.46 L502.74,242.58 L502.86,242.71 L502.97,242.84 L503.09,242.96 L503.20,243.09 L503.31,243.22 L503.43,243.34 L503.54,243.47 L503.65,243.60 L503.77,243.73 L503.88,243.86 L503.99,243.99 L504.10,244.12 L504.21,244.25 L504.33,244.38 L504.44,244.51 L504.55,244.64 L504.66,244.77 L504.77,244.90 L504.88,245.03 L504.99,245.17 L505.10,245.30 L505.21,245.43 L505.32,245.57 L505.43,245.70 L505.53,245.84 L505.64,245.97 L505.75,246.11 L505.86,246.24 L505.96,246.38 L506.07,246.51 L506.18,246.65 L506.28,246.79 L506.39,246.92 L506.50,247.06 L506.60,247.20 L506.71,247.34 L506.81,247.48 L506.92,247.62 L507.02,247.76 L507.12,247.90 L507.23,248.04 L507.33,248.18 L507.43,248.32 L507.54,248.46 L507.64,248.60 L507.74,248.74 L507.84,248.89 L507.94,249.03 L508.05,249.17 L508.15,249.31 L508.25,249.46 L508.35,249.60 L508.45,249.75 L508.54,249.89 L508.64,250.04 L508.74,250.18 L508.84,250.33 L508.94,250.48 L509.04,250.62 L509.13,250.77 L509.23,250.92 L509.33,251.07 L509.42,251.21 L509.52,251.36 L509.61,251.51 L509.71,251.66 L509.80,251.81 L509.89,251.96 L509.99,252.11 L510.08,252.26 L510.17,252.41 L510.27,252.57 L510.36,252.72 L510.45,252.87 L510.54,253.02 L510.63,253.17 L510.72,253.33 L510.81,253.48 L510.90,253.64 L510.99,253.79 L511.08,253.94 L511.17,254.10 L511.25,254.26 L511.34,254.41 L511.43,254.57 L511.51,254.72 L511.60,254.88 L511.69,255.04 L511.77,255.20 L511.86,255.35 L511.94,255.51 L512.02,255.67 L512.11,255.83 L512.19,255.99 L512.27,256.15 L512.35,256.31 L512.43,256.47 L512.51,256.63 L512.59,256.79 L512.67,256.95 L512.75,257.11 L512.83,257.27 L512.91,257.44 L512.99,257.60 L513.06,257.76 L513.14,257.93 L513.22,258.09 L513.29,258.25 L513.37,258.42 L513.44,258.58 L513.51,258.75 L513.59,258.91 L513.66,259.08 L513.73,259.25 L513.80,259.41 L513.88,259.58 L513.95,259.75 L514.02,259.91 L514.09,260.08 L514.15,260.25 L514.22,260.42 L514.29,260.59 L514.36,260.76 L514.42,260.93 L514.49,261.10 L514.55,261.27 L514.62,261.44 L514.68,261.61 L514.75,261.78 L514.81,261.95 L514.87,262.12 L514.93,262.29 L514.99,262.46 L515.05,262.64 L515.11,262.81 L515.17,262.98 L515.23,263.16 L515.28,263.33 L515.34,263.51 L515.40,263.68 L515.45,263.86 L515.51,264.03 L515.56,264.21 L515.61,264.38 L515.67,264.56 L515.72,264.73 L515.77,264.91 L515.82,265.09 L515.87,265.27 L515.92,265.44 L515.97,265.62 L516.01,265.80 L516.06,265.98 L516.10,266.16 L516.15,266.34 L516.19,266.52 L516.24,266.70 L516.28,266.88 L516.32,267.06 L516.36,267.24 L516.40,267.42 L516.44,267.60 L516.48,267.78 L516.52,267.96 L516.55,268.14 L516.59,268.33 L516.62,268.51 L516.66,268.69 L516.69,268.88 L516.72,269.06 L516.75,269.24 L516.78,269.43 L516.81,269.61 L516.84,269.80 L516.87,269.98 L516.90,270.17 L516.92,270.35 L516.95,270.54 L516.97,270.72 L516.99,270.91 L517.01,271.10 L517.03,271.28 L517.05,271.47 L517.07,271.66 L517.09,271.85 L517.11,272.04 L517.12,272.22 L517.13,272.41 L517.15,272.60 L517.16,272.79 L517.17,272.98 L517.18,273.17 L517.19,273.36 L517.20,273.55 L517.20,273.74 L517.21,273.93 L517.21,274.12 L517.21,274.31 L517.21,274.50 L517.21,274.69 L517.21,274.89 L517.21,275.08 L517.21,275.27 L517.20,275.46 L517.19,275.66 L517.19,275.85 L517.18,276.04 L517.17,276.24 L517.15,276.43 L517.14,276.62 L517.13,276.82 L517.11,277.01 L517.09,277.21 L517.07,277.40 L517.05,277.60 L517.03,277.79 L517.01,277.99 L516.98,278.18 L516.95,278.38 L516.92,278.58 L516.89,278.77 L516.86,278.97 L516.83,279.17 L516.79,279.36 L516.75,279.56 L516.72,279.76 L516.67,279.96 L516.63,280.15 L516.59,280.35 L516.54,280.55 L516.49,280.75 L516.44,280.95 L516.39,281.15 L516.33,281.35 L516.28,281.54 L516.22,281.74 L516.16,281.94 L516.10,282.14 L516.03,282.34 L515.96,282.54 L515.89,282.74 L515.82,282.94 L515.75,283.15 L515.67,283.35 L515.59,283.55 L515.51,283.75 L515.42,283.95 L515.34,284.15 L515.25,284.35 L515.16,284.55 L515.06,284.76 L514.96,284.96 L514.86,285.16 L514.76,285.36 L514.65,285.57 L514.54,285.77 L514.43,285.97 L514.31,286.17 L514.20,286.38 L514.07,286.58 L513.95,286.78 L513.82,286.99 L513.69,287.19 L513.55,287.40 L513.41,287.60 L513.26,287.80 L513.12,288.01 L512.97,288.21 L512.81,288.42 L512.65,288.62 L512.49,288.82 L512.32,289.03 L512.14,289.23 L511.97,289.44 L511.78,289.64 L511.60,289.85 L511.40,290.05 L511.21,290.26 L511.00,290.46 L510.80,290.67 L510.58,290.88 L510.36,291.08 L510.14,291.29 L509.91,291.49 L509.67,291.70 L509.43,291.90 L509.18,292.11 L508.92,292.31 L508.66,292.52 L508.39,292.73 L508.11,292.93 L507.82,293.14 L507.53,293.34 L507.23,293.55 L506.91,293.75 L506.60,293.96 L506.27,294.17 L505.93,294.37 L505.58,294.58 L505.22,294.78 L504.86,294.99 L504.48,295.19 L504.09,295.40 L503.69,295.60 L503.27,295.81 L502.85,296.01 L502.41,296.22 L501.96,296.42 L501.49,296.63 L501.01,296.83 L500.51,297.04 L500.00,297.24 L499.47,297.45 L498.93,297.65 L498.36,297.86 L497.78,298.06 L497.17,298.26 L496.55,298.47 L495.90,298.67 L495.24,298.87 L494.54,299.07 L493.82,299.28 L493.08,299.48 L492.31,299.68 L491.50,299.88 L490.67,300.08 L489.80,300.28 L488.90,300.48 L487.96,300.68 L486.99,300.88 L485.97,301.08 L484.91,301.27 L483.80,301.47 L482.64,301.67 L481.43,301.86 L480.16,302.06 L478.83,302.25 L477.43,302.44 L475.97,302.63 L474.43,302.82 L472.80,303.01 L471.10,303.20 L469.29,303.39 L467.39,303.57 L465.37,303.75 L463.23,303.93 L460.96,304.11 L458.55,304.29 L455.97,304.46 L453.22,304.63 L450.28,304.80 L447.12,304.97 L443.72,305.13 L440.06,305.29 L436.10,305.44 L431.80,305.59 L427.11,305.73 L422.00,305.86 L416.38,305.99 L410.19,306.10 L403.32,306.21 L395.68,306.30 L387.11,306.38 L377.44,306.44 L366.43,306.49 L353.80,306.50" stroke="#f07a48" fill="none" stroke-width="0.8" />
<line x1="353.80" y1="306.50" x2="488.90" y2="226.90" stroke="#5b6fc8" stroke-width="0.8" />
<circle cx="353.80" cy="306.50" r="1.80" fill="none" stroke="#8a8fd8" stroke-width="0.6" />
<circle cx="488.90" cy="226.90" r="1.70" fill="none" stroke="#6a72d0" stroke-width="0.6" />
<circle cx="502.20" cy="232.80" r="1.70" fill="none" stroke="#f07a48" stroke-width="0.6" />
<circle cx="485.00" cy="229.70" r="5.70" fill="none" stroke="#3aa55a" stroke-width="0.9" />
<g transform="translate(495.10,236.30) rotate(40)"><ellipse rx="5.25" ry="2.00" fill="#2c44b0"/><ellipse rx="3.78" ry="1.20" fill="#5a9a60"/><ellipse rx="2.89" ry="0.84" fill="#f0a020"/><ellipse rx="1.31" ry="0.50" fill="#e05020"/></g>
<circle cx="495.10" cy="236.30" r="5.60" fill="none" stroke="#f07a48" stroke-width="1.0" />
<line x1="127.40" y1="475.30" x2="127.40" y2="373.74" stroke="#8a8a8a" stroke-width="0.9" />
<line x1="124.90" y1="438.70" x2="127.40" y2="438.70" stroke="#808080" stroke-width="0.8" />
<line x1="124.90" y1="402.10" x2="127.40" y2="402.10" stroke="#808080" stroke-width="0.8" />
<line x1="126.40" y1="475.30" x2="324.42" y2="475.30" stroke="#666" stroke-width="1.2" />
<line x1="165.00" y1="475.30" x2="165.00" y2="473.80" stroke="#808080" stroke-width="0.7" />
<line x1="202.60" y1="475.30" x2="202.60" y2="473.80" stroke="#808080" stroke-width="0.7" />
<line x1="240.20" y1="475.30" x2="240.20" y2="473.80" stroke="#808080" stroke-width="0.7" />
<line x1="277.80" y1="475.30" x2="277.80" y2="473.80" stroke="#808080" stroke-width="0.7" />
<text x="126.90" y="488.40" font-size="11" text-anchor="middle" fill="#2a2a2a" font-weight="normal" >0</text>
<text x="164.50" y="488.40" font-size="11" text-anchor="middle" fill="#2a2a2a" font-weight="normal"  textLength="16.6" lengthAdjust="spacingAndGlyphs">0.2</text>
<text x="202.10" y="488.40" font-size="11" text-anchor="middle" fill="#2a2a2a" font-weight="normal"  textLength="16.6" lengthAdjust="spacingAndGlyphs">0.4</text>
<text x="239.70" y="488.40" font-size="11" text-anchor="middle" fill="#2a2a2a" font-weight="normal"  textLength="16.6" lengthAdjust="spacingAndGlyphs">0.6</text>
<text x="277.30" y="488.40" font-size="11" text-anchor="middle" fill="#2a2a2a" font-weight="normal"  textLength="16.6" lengthAdjust="spacingAndGlyphs">0.8</text>
<text x="316.60" y="488.40" font-size="11" text-anchor="middle" fill="#2a2a2a" font-weight="normal"  textLength="15.6" lengthAdjust="spacingAndGlyphs">1.0</text>
<text x="123.20" y="478.70" font-size="11" text-anchor="end" fill="#2a2a2a" font-weight="normal" >0</text>
<text x="123.20" y="442.10" font-size="11" text-anchor="end" fill="#2a2a2a" font-weight="normal"  textLength="16.6" lengthAdjust="spacingAndGlyphs">0.2</text>
<text x="123.20" y="405.50" font-size="11" text-anchor="end" fill="#2a2a2a" font-weight="normal"  textLength="16.6" lengthAdjust="spacingAndGlyphs">0.4</text>
<text x="100.70" y="425.80" font-size="13.3" text-anchor="middle" fill="#2a2a2a" font-weight="normal" >S</text>
<text x="221.40" y="500.70" font-size="13.3" text-anchor="middle" fill="#2a2a2a" font-weight="normal" >G</text>
<path d="M127.40,475.30 A94.00,91.50 0 0 1 315.40,475.30" stroke="#3a3a3a" fill="none" stroke-width="0.8" />
<circle cx="304.23" cy="432.04" r="1.25" fill="#444" stroke="none" stroke-width="1" />
<text x="313.23" y="434.14" font-size="6.2" text-anchor="middle" fill="#2a2a2a" font-weight="normal" >1 ns</text>
<circle cx="277.48" cy="401.87" r="1.25" fill="#444" stroke="none" stroke-width="1" />
<text x="283.98" y="399.77" font-size="6.2" text-anchor="middle" fill="#2a2a2a" font-weight="normal" >2 ns</text>
<circle cx="247.26" cy="387.33" r="1.25" fill="#444" stroke="none" stroke-width="1" />
<text x="253.06" y="384.43" font-size="6.2" text-anchor="middle" fill="#2a2a2a" font-weight="normal" >3 ns</text>
<circle cx="220.90" cy="383.80" r="1.25" fill="#444" stroke="none" stroke-width="1" />
<text x="222.50" y="380.65" font-size="6.2" text-anchor="middle" fill="#2a2a2a" font-weight="normal" >4 ns</text>
<circle cx="200.29" cy="386.14" r="1.25" fill="#444" stroke="none" stroke-width="1" />
<text x="200.39" y="382.64" font-size="6.2" text-anchor="middle" fill="#2a2a2a" font-weight="normal" >5 ns</text>
<circle cx="184.82" cy="391.01" r="1.25" fill="#444" stroke="none" stroke-width="1" />
<text x="182.42" y="387.61" font-size="6.2" text-anchor="middle" fill="#2a2a2a" font-weight="normal" >6 ns</text>
<circle cx="164.68" cy="402.33" r="1.25" fill="#444" stroke="none" stroke-width="1" />
<text x="161.98" y="398.83" font-size="6.2" text-anchor="middle" fill="#2a2a2a" font-weight="normal" >8 ns</text>
<circle cx="153.10" cy="412.44" r="1.25" fill="#444" stroke="none" stroke-width="1" />
<text x="147.10" y="408.34" font-size="6.2" text-anchor="middle" fill="#2a2a2a" font-weight="normal" >10 ns</text>
<circle cx="146.02" cy="420.63" r="1.25" fill="#444" stroke="none" stroke-width="1" />
<text x="138.02" y="419.53" font-size="6.2" text-anchor="middle" fill="#2a2a2a" font-weight="normal" >12 ns</text>
<path d="M262.50,398.50 L262.62,398.58 L262.74,398.67 L262.87,398.75 L262.99,398.84 L263.11,398.93 L263.23,399.01 L263.35,399.10 L263.47,399.18 L263.59,399.27 L263.72,399.36 L263.84,399.45 L263.96,399.53 L264.08,399.62 L264.20,399.71 L264.32,399.80 L264.44,399.89 L264.56,399.98 L264.68,400.07 L264.80,400.16 L264.92,400.25 L265.04,400.34 L265.16,400.43 L265.28,400.52 L265.40,400.62 L265.52,400.71 L265.64,400.80 L265.76,400.89 L265.88,400.99 L266.00,401.08 L266.12,401.17 L266.24,401.27 L266.36,401.36 L266.47,401.46 L266.59,401.55 L266.71,401.65 L266.83,401.75 L266.95,401.84 L267.06,401.94 L267.18,402.04 L267.30,402.13 L267.42,402.23 L267.53,402.33 L267.65,402.43 L267.77,402.53 L267.89,402.63 L268.00,402.73 L268.12,402.83 L268.24,402.93 L268.35,403.03 L268.47,403.13 L268.58,403.23 L268.70,403.33 L268.82,403.43 L268.93,403.53 L269.05,403.64 L269.16,403.74 L269.28,403.84 L269.39,403.95 L269.51,404.05 L269.62,404.15 L269.73,404.26 L269.85,404.36 L269.96,404.47 L270.08,404.58 L270.19,404.68 L270.30,404.79 L270.42,404.89 L270.53,405.00 L270.64,405.11 L270.75,405.22 L270.87,405.32 L270.98,405.43 L271.09,405.54 L271.20,405.65 L271.31,405.76 L271.43,405.87 L271.54,405.98 L271.65,406.09 L271.76,406.20 L271.87,406.31 L271.98,406.43 L272.09,406.54 L272.20,406.65 L272.31,406.76 L272.42,406.88 L272.53,406.99 L272.64,407.10 L272.74,407.22 L272.85,407.33 L272.96,407.45 L273.07,407.56 L273.18,407.68 L273.28,407.79 L273.39,407.91 L273.50,408.03 L273.61,408.14 L273.71,408.26 L273.82,408.38 L273.92,408.50 L274.03,408.62 L274.14,408.74 L274.24,408.85 L274.35,408.97 L274.45,409.09 L274.56,409.21 L274.66,409.33 L274.76,409.46 L274.87,409.58 L274.97,409.70 L275.07,409.82 L275.18,409.94 L275.28,410.07 L275.38,410.19 L275.48,410.31 L275.58,410.44 L275.69,410.56 L275.79,410.69 L275.89,410.81 L275.99,410.94 L276.09,411.06 L276.19,411.19 L276.29,411.31 L276.39,411.44 L276.49,411.57 L276.59,411.69 L276.68,411.82 L276.78,411.95 L276.88,412.08 L276.98,412.21 L277.07,412.34 L277.17,412.47 L277.27,412.60 L277.36,412.73 L277.46,412.86 L277.55,412.99 L277.65,413.12 L277.74,413.25 L277.84,413.38 L277.93,413.52 L278.02,413.65 L278.12,413.78 L278.21,413.92 L278.30,414.05 L278.40,414.18 L278.49,414.32 L278.58,414.45 L278.67,414.59 L278.76,414.73 L278.85,414.86 L278.94,415.00 L279.03,415.13 L279.12,415.27 L279.21,415.41 L279.30,415.55 L279.38,415.69 L279.47,415.82 L279.56,415.96 L279.64,416.10 L279.73,416.24 L279.82,416.38 L279.90,416.52 L279.99,416.66 L280.07,416.80 L280.16,416.95 L280.24,417.09 L280.32,417.23 L280.41,417.37 L280.49,417.52 L280.57,417.66 L280.65,417.80 L280.73,417.95 L280.81,418.09 L280.89,418.23 L280.97,418.38 L281.05,418.53 L281.13,418.67 L281.21,418.82 L281.29,418.96 L281.36,419.11 L281.44,419.26 L281.52,419.40 L281.59,419.55 L281.67,419.70 L281.74,419.85 L281.82,420.00 L281.89,420.15 L281.96,420.30 L282.04,420.45 L282.11,420.60 L282.18,420.75 L282.25,420.90 L282.32,421.05 L282.39,421.20 L282.46,421.35 L282.53,421.51 L282.60,421.66 L282.67,421.81 L282.74,421.96 L282.80,422.12 L282.87,422.27 L282.93,422.43 L283.00,422.58 L283.06,422.74 L283.13,422.89 L283.19,423.05 L283.25,423.20 L283.32,423.36 L283.38,423.52 L283.44,423.67 L283.50,423.83 L283.56,423.99 L283.62,424.15 L283.68,424.31 L283.74,424.47 L283.79,424.62 L283.85,424.78 L283.90,424.94 L283.96,425.10 L284.02,425.26 L284.07,425.43 L284.12,425.59 L284.18,425.75 L284.23,425.91 L284.28,426.07 L284.33,426.23 L284.38,426.40 L284.43,426.56 L284.48,426.72 L284.53,426.89 L284.57,427.05 L284.62,427.22 L284.66,427.38 L284.71,427.55 L284.75,427.71 L284.80,427.88 L284.84,428.04 L284.88,428.21 L284.92,428.38 L284.96,428.54 L285.00,428.71 L285.04,428.88 L285.08,429.05 L285.12,429.22 L285.15,429.38 L285.19,429.55 L285.23,429.72 L285.26,429.89 L285.29,430.06 L285.33,430.23 L285.36,430.40 L285.39,430.57 L285.42,430.75 L285.45,430.92 L285.48,431.09 L285.50,431.26 L285.53,431.43 L285.56,431.61 L285.58,431.78 L285.60,431.95 L285.63,432.13 L285.65,432.30 L285.67,432.47 L285.69,432.65 L285.71,432.82 L285.73,433.00 L285.74,433.17 L285.76,433.35 L285.78,433.53 L285.79,433.70 L285.80,433.88 L285.82,434.05 L285.83,434.23 L285.84,434.41 L285.85,434.59 L285.86,434.77 L285.86,434.94 L285.87,435.12 L285.87,435.30 L285.88,435.48 L285.88,435.66 L285.88,435.84 L285.88,436.02 L285.88,436.20 L285.88,436.38 L285.88,436.56 L285.88,436.74 L285.87,436.92 L285.86,437.11 L285.86,437.29 L285.85,437.47 L285.84,437.65 L285.83,437.83 L285.82,438.02 L285.80,438.20 L285.79,438.38 L285.77,438.57 L285.75,438.75 L285.74,438.94 L285.72,439.12 L285.70,439.31 L285.67,439.49 L285.65,439.68 L285.62,439.86 L285.60,440.05 L285.57,440.23 L285.54,440.42 L285.51,440.61 L285.48,440.79 L285.44,440.98 L285.41,441.17 L285.37,441.35 L285.33,441.54 L285.29,441.73 L285.25,441.92 L285.21,442.11 L285.17,442.30 L285.12,442.48 L285.07,442.67 L285.02,442.86 L284.97,443.05 L284.92,443.24 L284.87,443.43 L284.81,443.62 L284.75,443.81 L284.69,444.00 L284.63,444.20 L284.57,444.39 L284.51,444.58 L284.44,444.77 L284.37,444.96 L284.30,445.15 L284.23,445.34 L284.16,445.54 L284.08,445.73 L284.00,445.92 L283.92,446.12 L283.84,446.31 L283.76,446.50 L283.67,446.69 L283.58,446.89 L283.49,447.08 L283.40,447.28 L283.31,447.47 L283.21,447.67 L283.11,447.86 L283.01,448.05 L282.91,448.25 L282.80,448.44 L282.69,448.64 L282.58,448.83 L282.47,449.03 L282.36,449.23 L282.24,449.42 L282.12,449.62 L282.00,449.81 L281.87,450.01 L281.74,450.21 L281.61,450.40 L281.48,450.60 L281.34,450.80 L281.20,450.99 L281.06,451.19 L280.92,451.39 L280.77,451.59 L280.62,451.78 L280.46,451.98 L280.31,452.18 L280.15,452.38 L279.98,452.57 L279.82,452.77 L279.65,452.97 L279.48,453.17 L279.30,453.37 L279.12,453.57 L278.94,453.76 L278.75,453.96 L278.56,454.16 L278.36,454.36 L278.17,454.56 L277.97,454.76 L277.76,454.96 L277.55,455.16 L277.34,455.36 L277.12,455.55 L276.90,455.75 L276.67,455.95 L276.44,456.15 L276.21,456.35 L275.97,456.55 L275.72,456.75 L275.47,456.95 L275.22,457.15 L274.96,457.35 L274.70,457.55 L274.43,457.75 L274.16,457.95 L273.88,458.15 L273.59,458.35 L273.30,458.55 L273.01,458.75 L272.71,458.94 L272.40,459.14 L272.09,459.34 L271.77,459.54 L271.44,459.74 L271.11,459.94 L270.77,460.14 L270.43,460.34 L270.08,460.54 L269.72,460.74 L269.35,460.94 L268.98,461.14 L268.60,461.33 L268.21,461.53 L267.81,461.73 L267.41,461.93 L267.00,462.13 L266.57,462.32 L266.14,462.52 L265.71,462.72 L265.26,462.92 L264.80,463.12 L264.33,463.31 L263.86,463.51 L263.37,463.71 L262.87,463.90 L262.36,464.10 L261.84,464.29 L261.31,464.49 L260.77,464.69 L260.22,464.88 L259.65,465.08 L259.07,465.27 L258.48,465.46 L257.87,465.66 L257.25,465.85 L256.62,466.04 L255.97,466.24 L255.30,466.43 L254.62,466.62 L253.93,466.81 L253.21,467.00 L252.48,467.19 L251.73,467.38 L250.96,467.57 L250.18,467.76 L249.37,467.95 L248.54,468.14 L247.69,468.32 L246.82,468.51 L245.93,468.70 L245.01,468.88 L244.07,469.07 L243.10,469.25 L242.11,469.43 L241.08,469.61 L240.03,469.79 L238.95,469.97 L237.84,470.15 L236.69,470.33 L235.51,470.51 L234.30,470.68 L233.04,470.86 L231.75,471.03 L230.42,471.20 L229.05,471.37 L227.63,471.54 L226.16,471.71 L224.65,471.87 L223.08,472.04 L221.47,472.20 L219.79,472.36 L218.06,472.52 L216.26,472.67 L214.40,472.83 L212.47,472.98 L210.46,473.13 L208.38,473.27 L206.21,473.42 L203.96,473.56 L201.62,473.70 L199.17,473.83 L196.63,473.96 L193.97,474.09 L191.19,474.21 L188.29,474.33 L185.25,474.44 L182.07,474.55 L178.74,474.66 L175.23,474.76 L171.55,474.85 L167.67,474.93 L163.59,475.01 L159.28,475.08 L154.72,475.14 L149.90,475.20 L144.78,475.24 L139.35,475.27 L133.57,475.29 L127.40,475.30" stroke="#f07a48" fill="none" stroke-width="0.8" />
<line x1="127.40" y1="475.30" x2="264.70" y2="396.70" stroke="#5b6fc8" stroke-width="0.8" />
<circle cx="127.40" cy="475.30" r="1.80" fill="none" stroke="#8a8fd8" stroke-width="0.6" />
<circle cx="264.70" cy="396.70" r="1.70" fill="none" stroke="#6a72d0" stroke-width="0.6" />
<circle cx="287.80" cy="411.10" r="1.70" fill="none" stroke="#f07a48" stroke-width="0.6" />
<circle cx="258.80" cy="399.30" r="5.70" fill="none" stroke="#3aa55a" stroke-width="0.9" />
<g transform="translate(276.50,415.40) rotate(45)"><ellipse rx="7.50" ry="2.50" fill="#2c44b0"/><ellipse rx="5.40" ry="1.50" fill="#5a9a60"/><ellipse rx="4.12" ry="1.05" fill="#f0a020"/><ellipse rx="1.88" ry="0.62" fill="#e05020"/></g>
<circle cx="276.50" cy="415.40" r="5.60" fill="none" stroke="#f07a48" stroke-width="1.0" />
<line x1="356.40" y1="475.30" x2="356.40" y2="373.74" stroke="#8a8a8a" stroke-width="0.9" />
<line x1="353.90" y1="438.70" x2="356.40" y2="438.70" stroke="#808080" stroke-width="0.8" />
<line x1="353.90" y1="402.10" x2="356.40" y2="402.10" stroke="#808080" stroke-width="0.8" />
<line x1="355.40" y1="475.30" x2="554.16" y2="475.30" stroke="#555" stroke-width="1.2" />
<line x1="394.14" y1="475.30" x2="394.14" y2="473.80" stroke="#808080" stroke-width="0.7" />
<line x1="431.88" y1="475.30" x2="431.88" y2="473.80" stroke="#808080" stroke-width="0.7" />
<line x1="469.62" y1="475.30" x2="469.62" y2="473.80" stroke="#808080" stroke-width="0.7" />
<line x1="507.36" y1="475.30" x2="507.36" y2="473.80" stroke="#808080" stroke-width="0.7" />
<text x="355.90" y="488.40" font-size="11" text-anchor="middle" fill="#2a2a2a" font-weight="normal" >0</text>
<text x="393.64" y="488.40" font-size="11" text-anchor="middle" fill="#2a2a2a" font-weight="normal"  textLength="16.6" lengthAdjust="spacingAndGlyphs">0.2</text>
<text x="431.38" y="488.40" font-size="11" text-anchor="middle" fill="#2a2a2a" font-weight="normal"  textLength="16.6" lengthAdjust="spacingAndGlyphs">0.4</text>
<text x="469.12" y="488.40" font-size="11" text-anchor="middle" fill="#2a2a2a" font-weight="normal"  textLength="16.6" lengthAdjust="spacingAndGlyphs">0.6</text>
<text x="506.86" y="488.40" font-size="11" text-anchor="middle" fill="#2a2a2a" font-weight="normal"  textLength="16.6" lengthAdjust="spacingAndGlyphs">0.8</text>
<text x="546.30" y="488.40" font-size="11" text-anchor="middle" fill="#2a2a2a" font-weight="normal"  textLength="15.6" lengthAdjust="spacingAndGlyphs">1.0</text>
<text x="352.20" y="478.70" font-size="11" text-anchor="end" fill="#2a2a2a" font-weight="normal" >0</text>
<text x="352.20" y="442.10" font-size="11" text-anchor="end" fill="#2a2a2a" font-weight="normal"  textLength="16.6" lengthAdjust="spacingAndGlyphs">0.2</text>
<text x="352.20" y="405.50" font-size="11" text-anchor="end" fill="#2a2a2a" font-weight="normal"  textLength="16.6" lengthAdjust="spacingAndGlyphs">0.4</text>
<text x="328.85" y="426.00" font-size="13.3" text-anchor="middle" fill="#2a2a2a" font-weight="normal" >S</text>
<text x="450.75" y="500.70" font-size="13.3" text-anchor="middle" fill="#2a2a2a" font-weight="normal" >G</text>
<path d="M356.40,475.30 A94.35,91.50 0 0 1 545.10,475.30" stroke="#3a3a3a" fill="none" stroke-width="0.8" />
<circle cx="533.89" cy="432.04" r="1.25" fill="#444" stroke="none" stroke-width="1" />
<text x="542.89" y="434.14" font-size="6.2" text-anchor="middle" fill="#2a2a2a" font-weight="normal" >1 ns</text>
<circle cx="507.04" cy="401.87" r="1.25" fill="#444" stroke="none" stroke-width="1" />
<text x="513.54" y="399.77" font-size="6.2" text-anchor="middle" fill="#2a2a2a" font-weight="normal" >2 ns</text>
<circle cx="476.71" cy="387.33" r="1.25" fill="#444" stroke="none" stroke-width="1" />
<text x="482.51" y="384.43" font-size="6.2" text-anchor="middle" fill="#2a2a2a" font-weight="normal" >3 ns</text>
<circle cx="450.25" cy="383.80" r="1.25" fill="#444" stroke="none" stroke-width="1" />
<text x="451.85" y="380.65" font-size="6.2" text-anchor="middle" fill="#2a2a2a" font-weight="normal" >4 ns</text>
<circle cx="429.56" cy="386.14" r="1.25" fill="#444" stroke="none" stroke-width="1" />
<text x="429.66" y="382.64" font-size="6.2" text-anchor="middle" fill="#2a2a2a" font-weight="normal" >5 ns</text>
<circle cx="414.04" cy="391.01" r="1.25" fill="#444" stroke="none" stroke-width="1" />
<text x="411.64" y="387.61" font-size="6.2" text-anchor="middle" fill="#2a2a2a" font-weight="normal" >6 ns</text>
<circle cx="393.82" cy="402.33" r="1.25" fill="#444" stroke="none" stroke-width="1" />
<text x="391.12" y="398.83" font-size="6.2" text-anchor="middle" fill="#2a2a2a" font-weight="normal" >8 ns</text>
<circle cx="382.19" cy="412.44" r="1.25" fill="#444" stroke="none" stroke-width="1" />
<text x="376.19" y="408.34" font-size="6.2" text-anchor="middle" fill="#2a2a2a" font-weight="normal" >10 ns</text>
<circle cx="375.09" cy="420.63" r="1.25" fill="#444" stroke="none" stroke-width="1" />
<text x="367.09" y="419.53" font-size="6.2" text-anchor="middle" fill="#2a2a2a" font-weight="normal" >12 ns</text>
<path d="M492.00,396.50 L492.13,396.58 L492.27,396.66 L492.40,396.74 L492.53,396.82 L492.66,396.91 L492.80,396.99 L492.93,397.07 L493.06,397.15 L493.19,397.24 L493.33,397.32 L493.46,397.40 L493.59,397.49 L493.72,397.57 L493.86,397.66 L493.99,397.74 L494.12,397.83 L494.25,397.91 L494.38,398.00 L494.52,398.09 L494.65,398.17 L494.78,398.26 L494.91,398.35 L495.04,398.44 L495.17,398.53 L495.31,398.61 L495.44,398.70 L495.57,398.79 L495.70,398.88 L495.83,398.97 L495.96,399.06 L496.09,399.15 L496.22,399.25 L496.35,399.34 L496.49,399.43 L496.62,399.52 L496.75,399.61 L496.88,399.71 L497.01,399.80 L497.14,399.89 L497.27,399.99 L497.40,400.08 L497.53,400.18 L497.66,400.27 L497.79,400.37 L497.92,400.46 L498.05,400.56 L498.18,400.66 L498.30,400.75 L498.43,400.85 L498.56,400.95 L498.69,401.05 L498.82,401.14 L498.95,401.24 L499.08,401.34 L499.21,401.44 L499.33,401.54 L499.46,401.64 L499.59,401.74 L499.72,401.84 L499.85,401.94 L499.97,402.04 L500.10,402.15 L500.23,402.25 L500.36,402.35 L500.48,402.45 L500.61,402.56 L500.74,402.66 L500.86,402.77 L500.99,402.87 L501.12,402.98 L501.24,403.08 L501.37,403.19 L501.50,403.29 L501.62,403.40 L501.75,403.51 L501.87,403.61 L502.00,403.72 L502.12,403.83 L502.25,403.94 L502.37,404.04 L502.50,404.15 L502.62,404.26 L502.75,404.37 L502.87,404.48 L503.00,404.59 L503.12,404.70 L503.24,404.81 L503.37,404.93 L503.49,405.04 L503.61,405.15 L503.74,405.26 L503.86,405.38 L503.98,405.49 L504.10,405.60 L504.23,405.72 L504.35,405.83 L504.47,405.95 L504.59,406.06 L504.71,406.18 L504.83,406.29 L504.96,406.41 L505.08,406.53 L505.20,406.64 L505.32,406.76 L505.44,406.88 L505.56,407.00 L505.68,407.12 L505.80,407.24 L505.92,407.35 L506.03,407.47 L506.15,407.59 L506.27,407.72 L506.39,407.84 L506.51,407.96 L506.63,408.08 L506.74,408.20 L506.86,408.32 L506.98,408.45 L507.10,408.57 L507.21,408.69 L507.33,408.82 L507.45,408.94 L507.56,409.07 L507.68,409.19 L507.79,409.32 L507.91,409.44 L508.02,409.57 L508.14,409.70 L508.25,409.82 L508.37,409.95 L508.48,410.08 L508.59,410.21 L508.71,410.33 L508.82,410.46 L508.93,410.59 L509.05,410.72 L509.16,410.85 L509.27,410.98 L509.38,411.11 L509.49,411.24 L509.60,411.38 L509.72,411.51 L509.83,411.64 L509.94,411.77 L510.05,411.91 L510.16,412.04 L510.26,412.17 L510.37,412.31 L510.48,412.44 L510.59,412.58 L510.70,412.71 L510.81,412.85 L510.91,412.99 L511.02,413.12 L511.13,413.26 L511.23,413.40 L511.34,413.53 L511.45,413.67 L511.55,413.81 L511.66,413.95 L511.76,414.09 L511.86,414.23 L511.97,414.37 L512.07,414.51 L512.18,414.65 L512.28,414.79 L512.38,414.93 L512.48,415.07 L512.58,415.22 L512.69,415.36 L512.79,415.50 L512.89,415.64 L512.99,415.79 L513.09,415.93 L513.19,416.08 L513.29,416.22 L513.38,416.37 L513.48,416.51 L513.58,416.66 L513.68,416.81 L513.78,416.95 L513.87,417.10 L513.97,417.25 L514.06,417.39 L514.16,417.54 L514.25,417.69 L514.35,417.84 L514.44,417.99 L514.54,418.14 L514.63,418.29 L514.72,418.44 L514.82,418.59 L514.91,418.74 L515.00,418.89 L515.09,419.05 L515.18,419.20 L515.27,419.35 L515.36,419.51 L515.45,419.66 L515.54,419.81 L515.63,419.97 L515.71,420.12 L515.80,420.28 L515.89,420.43 L515.98,420.59 L516.06,420.74 L516.15,420.90 L516.23,421.06 L516.32,421.21 L516.40,421.37 L516.48,421.53 L516.57,421.69 L516.65,421.85 L516.73,422.01 L516.81,422.17 L516.89,422.33 L516.97,422.49 L517.05,422.65 L517.13,422.81 L517.21,422.97 L517.29,423.13 L517.36,423.29 L517.44,423.45 L517.52,423.62 L517.59,423.78 L517.67,423.94 L517.74,424.11 L517.82,424.27 L517.89,424.44 L517.96,424.60 L518.03,424.77 L518.11,424.93 L518.18,425.10 L518.25,425.26 L518.32,425.43 L518.38,425.60 L518.45,425.77 L518.52,425.93 L518.59,426.10 L518.65,426.27 L518.72,426.44 L518.79,426.61 L518.85,426.78 L518.91,426.95 L518.98,427.12 L519.04,427.29 L519.10,427.46 L519.16,427.63 L519.22,427.80 L519.28,427.97 L519.34,428.14 L519.40,428.32 L519.46,428.49 L519.51,428.66 L519.57,428.84 L519.63,429.01 L519.68,429.19 L519.73,429.36 L519.79,429.54 L519.84,429.71 L519.89,429.89 L519.94,430.06 L519.99,430.24 L520.04,430.41 L520.09,430.59 L520.14,430.77 L520.18,430.95 L520.23,431.12 L520.28,431.30 L520.32,431.48 L520.36,431.66 L520.41,431.84 L520.45,432.02 L520.49,432.20 L520.53,432.38 L520.57,432.56 L520.61,432.74 L520.64,432.92 L520.68,433.10 L520.72,433.29 L520.75,433.47 L520.79,433.65 L520.82,433.83 L520.85,434.02 L520.88,434.20 L520.91,434.38 L520.94,434.57 L520.97,434.75 L521.00,434.94 L521.02,435.12 L521.05,435.31 L521.07,435.49 L521.09,435.68 L521.12,435.86 L521.14,436.05 L521.16,436.24 L521.18,436.42 L521.19,436.61 L521.21,436.80 L521.23,436.99 L521.24,437.17 L521.25,437.36 L521.27,437.55 L521.28,437.74 L521.29,437.93 L521.30,438.12 L521.30,438.31 L521.31,438.50 L521.32,438.69 L521.32,438.88 L521.32,439.07 L521.32,439.26 L521.32,439.46 L521.32,439.65 L521.32,439.84 L521.32,440.03 L521.31,440.22 L521.31,440.42 L521.30,440.61 L521.29,440.80 L521.28,441.00 L521.27,441.19 L521.25,441.39 L521.24,441.58 L521.22,441.78 L521.21,441.97 L521.19,442.17 L521.17,442.36 L521.15,442.56 L521.12,442.75 L521.10,442.95 L521.07,443.15 L521.04,443.34 L521.01,443.54 L520.98,443.74 L520.95,443.94 L520.91,444.13 L520.88,444.33 L520.84,444.53 L520.80,444.73 L520.76,444.93 L520.71,445.13 L520.67,445.33 L520.62,445.52 L520.57,445.72 L520.52,445.92 L520.47,446.12 L520.42,446.32 L520.36,446.53 L520.30,446.73 L520.24,446.93 L520.18,447.13 L520.11,447.33 L520.05,447.53 L519.98,447.73 L519.91,447.93 L519.83,448.14 L519.76,448.34 L519.68,448.54 L519.60,448.74 L519.52,448.95 L519.43,449.15 L519.35,449.35 L519.26,449.56 L519.17,449.76 L519.07,449.97 L518.97,450.17 L518.88,450.37 L518.77,450.58 L518.67,450.78 L518.56,450.99 L518.45,451.19 L518.34,451.40 L518.22,451.60 L518.10,451.81 L517.98,452.01 L517.85,452.22 L517.73,452.43 L517.59,452.63 L517.46,452.84 L517.32,453.04 L517.18,453.25 L517.04,453.46 L516.89,453.66 L516.74,453.87 L516.58,454.08 L516.42,454.28 L516.26,454.49 L516.09,454.70 L515.92,454.91 L515.75,455.11 L515.57,455.32 L515.39,455.53 L515.20,455.74 L515.01,455.94 L514.81,456.15 L514.61,456.36 L514.41,456.57 L514.20,456.78 L513.98,456.98 L513.77,457.19 L513.54,457.40 L513.31,457.61 L513.08,457.82 L512.84,458.03 L512.59,458.24 L512.34,458.44 L512.08,458.65 L511.82,458.86 L511.55,459.07 L511.28,459.28 L510.99,459.49 L510.71,459.70 L510.41,459.91 L510.11,460.11 L509.80,460.32 L509.48,460.53 L509.16,460.74 L508.83,460.95 L508.49,461.16 L508.14,461.37 L507.78,461.58 L507.42,461.78 L507.05,461.99 L506.66,462.20 L506.27,462.41 L505.87,462.62 L505.46,462.83 L505.03,463.03 L504.60,463.24 L504.16,463.45 L503.70,463.66 L503.23,463.87 L502.75,464.07 L502.26,464.28 L501.76,464.49 L501.24,464.69 L500.71,464.90 L500.16,465.11 L499.60,465.31 L499.02,465.52 L498.43,465.73 L497.82,465.93 L497.19,466.14 L496.55,466.34 L495.88,466.55 L495.20,466.75 L494.50,466.95 L493.77,467.16 L493.03,467.36 L492.26,467.56 L491.46,467.77 L490.65,467.97 L489.80,468.17 L488.93,468.37 L488.03,468.57 L487.10,468.77 L486.14,468.97 L485.15,469.16 L484.12,469.36 L483.06,469.56 L481.96,469.75 L480.81,469.95 L479.63,470.14 L478.40,470.34 L477.13,470.53 L475.81,470.72 L474.43,470.91 L473.00,471.10 L471.51,471.29 L469.96,471.47 L468.35,471.66 L466.66,471.84 L464.90,472.02 L463.06,472.20 L461.13,472.38 L459.12,472.55 L457.00,472.73 L454.79,472.90 L452.46,473.07 L450.01,473.23 L447.43,473.40 L444.71,473.56 L441.83,473.71 L438.79,473.86 L435.57,474.01 L432.16,474.16 L428.53,474.29 L424.66,474.43 L420.53,474.55 L416.12,474.68 L411.39,474.79 L406.31,474.89 L400.83,474.99 L394.92,475.08 L388.51,475.15 L381.53,475.21 L373.92,475.26 L365.58,475.29 L356.40,475.30" stroke="#f07a48" fill="none" stroke-width="0.8" />
<line x1="356.40" y1="475.30" x2="494.70" y2="394.70" stroke="#5b6fc8" stroke-width="0.8" />
<circle cx="356.40" cy="475.30" r="1.80" fill="none" stroke="#8a8fd8" stroke-width="0.6" />
<circle cx="494.70" cy="394.70" r="1.70" fill="none" stroke="#6a72d0" stroke-width="0.6" />
<circle cx="520.90" cy="415.00" r="1.70" fill="none" stroke="#f07a48" stroke-width="0.6" />
<circle cx="488.30" cy="398.70" r="5.70" fill="none" stroke="#3aa55a" stroke-width="0.9" />
<g transform="translate(512.40,417.40) rotate(55)"><ellipse rx="6.50" ry="3.25" fill="#2c44b0"/><ellipse rx="4.68" ry="1.95" fill="#5a9a60"/><ellipse rx="3.58" ry="1.36" fill="#f0a020"/><ellipse rx="1.62" ry="0.81" fill="#e05020"/></g>
<circle cx="512.40" cy="417.40" r="5.60" fill="none" stroke="#f07a48" stroke-width="1.0" />
<text x="-1.20" y="17.00" font-size="24" text-anchor="start" fill="#231f20" font-weight="normal" >a</text>
<text x="248.70" y="17.00" font-size="24" text-anchor="start" fill="#231f20" font-weight="normal" >b</text>
<text x="485.80" y="17.40" font-size="24" text-anchor="start" fill="#231f20" font-weight="normal" >c</text>
<text x="-1.00" y="196.00" font-size="24" text-anchor="start" fill="#231f20" font-weight="normal" >d</text>
<text x="89.90" y="196.30" font-size="24" text-anchor="start" fill="#231f20" font-weight="normal" >e</text>
<text x="551.50" y="195.80" font-size="24" text-anchor="start" fill="#231f20" font-weight="normal" >f</text>
<text x="90.80" y="359.00" font-size="24" text-anchor="start" fill="#231f20" font-weight="normal" >g</text>
<text x="552.60" y="363.80" font-size="24" text-anchor="start" fill="#231f20" font-weight="normal" >h</text>
<text x="49.90" y="25.90" font-size="11.4" text-anchor="start" fill="#231f20" font-weight="normal" >Control</text>
<text x="290.50" y="25.90" font-size="11" text-anchor="start" fill="#5c9c4a" font-weight="normal" >Paclitaxel</text>
<text x="124.00" y="97.10" font-size="11.2" text-anchor="start" fill="#c8264b" font-weight="normal" >E(FRET) = 0.11</text>
<text x="364.00" y="97.10" font-size="11.2" text-anchor="start" fill="#c8264b" font-weight="normal" >E(FRET) = 0.04</text>
<text x="76.80" y="120.60" font-size="10.5" text-anchor="start" fill="#231f20" font-weight="normal" >L10-CFP/hHCN2-YFP</text>
<text x="316.80" y="120.60" font-size="10.5" text-anchor="start" fill="#231f20" font-weight="normal" >L10-CFP/hHCN2-YFP</text>
<text x="129.30" y="204.50" font-size="11.4" text-anchor="start" fill="#231f20" font-weight="normal" >Control</text>
<text x="256.20" y="193.60" font-size="13.6" text-anchor="start" fill="#231f20" font-weight="normal" >Resting (PBS)</text>
<text x="359.10" y="205.00" font-size="11" text-anchor="start" fill="#1fa8d8" font-weight="normal" >β-CD</text>
<text x="200.20" y="231.20" font-size="9.3" text-anchor="middle" fill="#2b8a50" font-weight="normal" >Donor</text>
<text x="200.60" y="239.60" font-size="9.3" text-anchor="middle" fill="#2b8a50" font-weight="normal" >alone</text>
<text x="253.70" y="264.80" font-size="9.1" text-anchor="middle" fill="#c8264b" font-weight="normal" >With acceptor</text>
<text x="196.30" y="282.40" font-size="11.2" text-anchor="start" fill="#c8264b" font-weight="normal" >E(FRET) = 0.27</text>
<text x="421.30" y="282.40" font-size="11.2" text-anchor="start" fill="#c8264b" font-weight="normal" >E(FRET) = 0.16</text>
<text x="155.20" y="300.60" font-size="10.5" text-anchor="start" fill="#231f20" font-weight="normal" >hHCN2-L323TAG/T240TAA</text>
<line x1="214.60" y1="231.30" x2="243.50" y2="231.30" stroke="#111" stroke-width="1.2" />
<path d="M246.5,231.3 L241.5,228.6 L241.5,234 Z" stroke="none" fill="#111" stroke-width="1" />
<line x1="262.50" y1="255.30" x2="268.00" y2="249.50" stroke="#111" stroke-width="1.2" />
<path d="M270.5,246.8 L264.6,248.8 L268.6,252.6 Z" stroke="none" fill="#111" stroke-width="1" />
<text x="133.20" y="372.80" font-size="11.4" text-anchor="start" fill="#231f20" font-weight="normal" >Control</text>
<text x="250.20" y="358.70" font-size="13.6" text-anchor="start" fill="#231f20" font-weight="normal" >Depolarization (120 mM KCl)</text>
<text x="361.30" y="374.00" font-size="11" text-anchor="start" fill="#1fa8d8" font-weight="normal" >β-CD</text>
<text x="193.80" y="451.60" font-size="11.2" text-anchor="start" fill="#c8264b" font-weight="normal" >E(FRET) = 0.31</text>
<text x="428.50" y="452.50" font-size="11.2" text-anchor="start" fill="#c8264b" font-weight="normal" >E(FRET) = 0.37</text>
<text x="158.80" y="470.50" font-size="10.5" text-anchor="start" fill="#231f20" font-weight="normal" >hHCN2-L323TAG/T240TAA</text>
<text x="13.60" y="232.20" font-size="12.1" text-anchor="start" fill="#2a2a2a" font-weight="normal" >hHCN2-VSD</text>
<text x="25.60" y="248.40" font-size="11" text-anchor="start" fill="#c8203c" font-weight="bold" >L323</text>
<text x="57.60" y="277.00" font-size="10.5" text-anchor="start" fill="#222" font-weight="bold" >T240</text>
<line x1="553.30" y1="27.35" x2="553.30" y2="130.90" stroke="#231f20" stroke-width="1.3" />
<line x1="552.70" y1="130.30" x2="675.70" y2="130.30" stroke="#231f20" stroke-width="1.3" />
<line x1="548.80" y1="125.50" x2="553.30" y2="125.50" stroke="#231f20" stroke-width="1.1" />
<line x1="548.80" y1="111.55" x2="553.30" y2="111.55" stroke="#231f20" stroke-width="1.1" />
<line x1="548.80" y1="97.60" x2="553.30" y2="97.60" stroke="#231f20" stroke-width="1.1" />
<line x1="548.80" y1="83.65" x2="553.30" y2="83.65" stroke="#231f20" stroke-width="1.1" />
<line x1="548.80" y1="69.70" x2="553.30" y2="69.70" stroke="#231f20" stroke-width="1.1" />
<line x1="548.80" y1="55.75" x2="553.30" y2="55.75" stroke="#231f20" stroke-width="1.1" />
<line x1="548.80" y1="41.80" x2="553.30" y2="41.80" stroke="#231f20" stroke-width="1.1" />
<line x1="548.80" y1="27.85" x2="553.30" y2="27.85" stroke="#231f20" stroke-width="1.1" />
<text x="545.20" y="129.30" font-size="10.8" text-anchor="end" fill="#231f20" font-weight="normal" >0</text>
<text x="522.00" y="101.40" font-size="10.8" fill="#231f20" textLength="23.20" lengthAdjust="spacingAndGlyphs">0.04</text>
<text x="522.00" y="73.50" font-size="10.8" fill="#231f20" textLength="23.20" lengthAdjust="spacingAndGlyphs">0.08</text>
<text x="522.00" y="45.60" font-size="10.8" fill="#231f20" textLength="23.20" lengthAdjust="spacingAndGlyphs">0.12</text>
<text x="567.40" y="34.20" font-size="10.4" text-anchor="start" fill="#231f20" font-weight="normal" >L10-CFP/hHCN2-YFP</text>
<text transform="translate(516.60,81.00) rotate(-90)" x="-54.75" font-size="11.5" fill="#231f20" textLength="109.5" lengthAdjust="spacingAndGlyphs">FLIM-FRET Efficiency</text>
<circle cx="562.40" cy="48.30" r="3.50" fill="#53585a" stroke="none" stroke-width="1" />
<circle cx="571.30" cy="48.30" r="3.50" fill="#53585a" stroke="none" stroke-width="1" />
<circle cx="580.20" cy="55.30" r="3.50" fill="#53585a" stroke="none" stroke-width="1" />
<circle cx="562.40" cy="62.20" r="3.50" fill="#53585a" stroke="none" stroke-width="1" />
<circle cx="571.30" cy="62.20" r="3.50" fill="#53585a" stroke="none" stroke-width="1" />
<circle cx="580.20" cy="62.20" r="3.50" fill="#53585a" stroke="none" stroke-width="1" />
<circle cx="571.30" cy="69.60" r="3.50" fill="#53585a" stroke="none" stroke-width="1" />
<line x1="562.20" y1="58.50" x2="580.80" y2="58.50" stroke="#000" stroke-width="1.3" />
<line x1="571.30" y1="55.30" x2="571.30" y2="61.50" stroke="#000" stroke-width="1.3" />
<line x1="568.40" y1="55.30" x2="574.20" y2="55.30" stroke="#000" stroke-width="1.3" />
<line x1="568.40" y1="61.50" x2="574.20" y2="61.50" stroke="#000" stroke-width="1.3" />
<circle cx="616.70" cy="83.40" r="3.50" fill="#14b4c1" stroke="none" stroke-width="1" />
<circle cx="616.70" cy="90.50" r="3.50" fill="#14b4c1" stroke="none" stroke-width="1" />
<circle cx="616.70" cy="97.60" r="3.50" fill="#14b4c1" stroke="none" stroke-width="1" />
<circle cx="616.70" cy="104.80" r="3.50" fill="#14b4c1" stroke="none" stroke-width="1" />
<circle cx="607.70" cy="118.40" r="3.50" fill="#14b4c1" stroke="none" stroke-width="1" />
<circle cx="616.70" cy="118.40" r="3.50" fill="#14b4c1" stroke="none" stroke-width="1" />
<circle cx="625.40" cy="125.20" r="3.50" fill="#14b4c1" stroke="none" stroke-width="1" />
<line x1="607.20" y1="105.40" x2="626.00" y2="105.40" stroke="#000" stroke-width="1.3" />
<line x1="616.70" y1="99.20" x2="616.70" y2="111.60" stroke="#000" stroke-width="1.3" />
<line x1="613.45" y1="99.20" x2="619.95" y2="99.20" stroke="#000" stroke-width="1.3" />
<line x1="613.45" y1="111.60" x2="619.95" y2="111.60" stroke="#000" stroke-width="1.3" />
<circle cx="662.00" cy="83.40" r="3.50" fill="#899035" stroke="none" stroke-width="1" />
<circle cx="662.00" cy="90.50" r="3.50" fill="#899035" stroke="none" stroke-width="1" />
<circle cx="657.50" cy="97.60" r="3.50" fill="#899035" stroke="none" stroke-width="1" />
<circle cx="666.50" cy="97.60" r="3.50" fill="#899035" stroke="none" stroke-width="1" />
<circle cx="657.50" cy="104.70" r="3.50" fill="#899035" stroke="none" stroke-width="1" />
<circle cx="666.50" cy="104.70" r="3.50" fill="#899035" stroke="none" stroke-width="1" />
<circle cx="657.50" cy="111.40" r="3.50" fill="#899035" stroke="none" stroke-width="1" />
<circle cx="666.50" cy="111.40" r="3.50" fill="#899035" stroke="none" stroke-width="1" />
<line x1="657.30" y1="100.40" x2="667.00" y2="100.40" stroke="#000" stroke-width="1.3" />
<line x1="662.00" y1="96.70" x2="662.00" y2="103.50" stroke="#000" stroke-width="1.3" />
<line x1="659.95" y1="96.70" x2="664.05" y2="96.70" stroke="#000" stroke-width="1.3" />
<line x1="659.95" y1="103.50" x2="664.05" y2="103.50" stroke="#000" stroke-width="1.3" />
<text x="616.40" y="79.50" font-size="21" text-anchor="middle" fill="#231f20" font-weight="normal" >**</text>
<text x="662.00" y="78.80" font-size="21" text-anchor="middle" fill="#231f20" font-weight="normal" >**</text>
<text transform="translate(576.00,139.00) rotate(-45)" font-size="11" text-anchor="end" fill="#231f20">control</text>
<text transform="translate(623.00,140.00) rotate(-45)" font-size="11" text-anchor="end" fill="#1fa8d8">β-CD</text>
<text transform="translate(670.50,140.00) rotate(-45)" font-size="11" text-anchor="end" fill="#5ea24e">Paclitaxel</text>
<line x1="599.30" y1="212.40" x2="599.30" y2="306.90" stroke="#231f20" stroke-width="1.3" />
<line x1="598.70" y1="306.30" x2="682.70" y2="306.30" stroke="#231f20" stroke-width="1.3" />
<line x1="593.30" y1="302.90" x2="599.30" y2="302.90" stroke="#231f20" stroke-width="1.1" />
<line x1="593.30" y1="287.90" x2="599.30" y2="287.90" stroke="#231f20" stroke-width="1.1" />
<line x1="593.30" y1="272.90" x2="599.30" y2="272.90" stroke="#231f20" stroke-width="1.1" />
<line x1="593.30" y1="257.90" x2="599.30" y2="257.90" stroke="#231f20" stroke-width="1.1" />
<line x1="593.30" y1="242.90" x2="599.30" y2="242.90" stroke="#231f20" stroke-width="1.1" />
<line x1="593.30" y1="227.90" x2="599.30" y2="227.90" stroke="#231f20" stroke-width="1.1" />
<line x1="593.30" y1="212.90" x2="599.30" y2="212.90" stroke="#231f20" stroke-width="1.1" />
<text x="590.30" y="306.70" font-size="10.8" text-anchor="end" fill="#231f20" font-weight="normal" >0</text>
<text x="573.30" y="276.70" font-size="10.8" fill="#231f20" textLength="17.00" lengthAdjust="spacingAndGlyphs">0.1</text>
<text x="573.30" y="246.70" font-size="10.8" fill="#231f20" textLength="17.00" lengthAdjust="spacingAndGlyphs">0.2</text>
<text x="573.30" y="216.70" font-size="10.8" fill="#231f20" textLength="17.00" lengthAdjust="spacingAndGlyphs">0.3</text>
<text x="583.30" y="199.00" font-size="10.45" text-anchor="start" fill="#231f20" font-weight="normal" >AF-488/AF-555 FRET</text>
<text transform="translate(569.80,258.30) rotate(-90)" x="-45.50" font-size="9.8" fill="#231f20" textLength="91" lengthAdjust="spacingAndGlyphs">FLIM-FRET Efficiency</text>
<circle cx="620.80" cy="218.40" r="3.10" fill="#3c4143" stroke="none" stroke-width="1" />
<circle cx="615.60" cy="221.10" r="3.10" fill="#3c4143" stroke="none" stroke-width="1" />
<circle cx="618.30" cy="227.70" r="3.10" fill="#3c4143" stroke="none" stroke-width="1" />
<circle cx="618.30" cy="233.00" r="3.10" fill="#3c4143" stroke="none" stroke-width="1" />
<circle cx="618.30" cy="248.50" r="3.10" fill="#3c4143" stroke="none" stroke-width="1" />
<line x1="612.80" y1="230.20" x2="623.60" y2="230.20" stroke="#000" stroke-width="1.3" />
<line x1="618.30" y1="224.60" x2="618.30" y2="235.70" stroke="#000" stroke-width="1.3" />
<line x1="615.90" y1="224.60" x2="620.70" y2="224.60" stroke="#000" stroke-width="1.3" />
<line x1="615.90" y1="235.70" x2="620.70" y2="235.70" stroke="#000" stroke-width="1.3" />
<circle cx="672.30" cy="254.50" r="3.10" fill="#14b4c1" stroke="none" stroke-width="1" />
<circle cx="672.30" cy="259.00" r="3.10" fill="#14b4c1" stroke="none" stroke-width="1" />
<circle cx="672.30" cy="263.50" r="3.10" fill="#14b4c1" stroke="none" stroke-width="1" />
<circle cx="672.30" cy="278.80" r="3.10" fill="#14b4c1" stroke="none" stroke-width="1" />
<line x1="667.20" y1="265.80" x2="677.80" y2="265.80" stroke="#000" stroke-width="1.3" />
<line x1="672.30" y1="259.90" x2="672.30" y2="270.50" stroke="#000" stroke-width="1.3" />
<line x1="669.90" y1="259.90" x2="674.70" y2="259.90" stroke="#000" stroke-width="1.3" />
<line x1="669.90" y1="270.50" x2="674.70" y2="270.50" stroke="#000" stroke-width="1.3" />
<text x="672.30" y="247.50" font-size="20" text-anchor="middle" fill="#231f20" font-weight="normal" >**</text>
<text x="643.80" y="296.50" font-size="10.5" text-anchor="middle" fill="#231f20" font-weight="normal" >Resting</text>
<text transform="translate(628.00,316.00) rotate(-45)" font-size="11" text-anchor="end" fill="#231f20">control</text>
<text transform="translate(678.70,316.00) rotate(-45)" font-size="11" text-anchor="end" fill="#1fa8d8">β-CD</text>
<line x1="599.00" y1="375.80" x2="599.00" y2="474.40" stroke="#231f20" stroke-width="1.3" />
<line x1="598.40" y1="473.80" x2="682.70" y2="473.80" stroke="#231f20" stroke-width="1.3" />
<line x1="592.50" y1="469.50" x2="599.00" y2="469.50" stroke="#231f20" stroke-width="1.1" />
<line x1="592.50" y1="450.94" x2="599.00" y2="450.94" stroke="#231f20" stroke-width="1.1" />
<line x1="592.50" y1="432.38" x2="599.00" y2="432.38" stroke="#231f20" stroke-width="1.1" />
<line x1="592.50" y1="413.82" x2="599.00" y2="413.82" stroke="#231f20" stroke-width="1.1" />
<line x1="592.50" y1="395.26" x2="599.00" y2="395.26" stroke="#231f20" stroke-width="1.1" />
<line x1="592.50" y1="376.70" x2="599.00" y2="376.70" stroke="#231f20" stroke-width="1.1" />
<text x="591.30" y="473.30" font-size="11.2" text-anchor="end" fill="#231f20" font-weight="normal" >0</text>
<text x="573.10" y="454.74" font-size="11.2" fill="#231f20" textLength="18.20" lengthAdjust="spacingAndGlyphs">0.1</text>
<text x="573.10" y="436.18" font-size="11.2" fill="#231f20" textLength="18.20" lengthAdjust="spacingAndGlyphs">0.2</text>
<text x="573.10" y="417.62" font-size="11.2" fill="#231f20" textLength="18.20" lengthAdjust="spacingAndGlyphs">0.3</text>
<text x="573.10" y="399.06" font-size="11.2" fill="#231f20" textLength="18.20" lengthAdjust="spacingAndGlyphs">0.4</text>
<text x="573.10" y="380.50" font-size="11.2" fill="#231f20" textLength="18.20" lengthAdjust="spacingAndGlyphs">0.5</text>
<text x="582.30" y="358.80" font-size="10.35" text-anchor="start" fill="#231f20" font-weight="normal" >AF-488/AF-555 FRET</text>
<text transform="translate(570.00,424.70) rotate(-90)" x="-48.50" font-size="10.2" fill="#231f20" textLength="97" lengthAdjust="spacingAndGlyphs">FLIM-FRET efficiency</text>
<circle cx="621.40" cy="402.40" r="3.10" fill="#3c4143" stroke="none" stroke-width="1" />
<circle cx="616.10" cy="404.20" r="3.10" fill="#3c4143" stroke="none" stroke-width="1" />
<circle cx="619.00" cy="408.90" r="3.10" fill="#3c4143" stroke="none" stroke-width="1" />
<circle cx="616.10" cy="414.70" r="3.10" fill="#3c4143" stroke="none" stroke-width="1" />
<circle cx="621.40" cy="414.10" r="3.10" fill="#3c4143" stroke="none" stroke-width="1" />
<circle cx="616.10" cy="418.20" r="3.10" fill="#3c4143" stroke="none" stroke-width="1" />
<circle cx="621.40" cy="420.00" r="3.10" fill="#3c4143" stroke="none" stroke-width="1" />
<line x1="612.90" y1="412.40" x2="623.70" y2="412.40" stroke="#000" stroke-width="1.3" />
<line x1="618.30" y1="409.80" x2="618.30" y2="414.10" stroke="#000" stroke-width="1.3" />
<line x1="615.90" y1="409.80" x2="620.70" y2="409.80" stroke="#000" stroke-width="1.3" />
<line x1="615.90" y1="414.10" x2="620.70" y2="414.10" stroke="#000" stroke-width="1.3" />
<circle cx="671.80" cy="386.10" r="3.10" fill="#14b4c1" stroke="none" stroke-width="1" />
<circle cx="671.80" cy="394.90" r="3.10" fill="#14b4c1" stroke="none" stroke-width="1" />
<circle cx="671.80" cy="399.00" r="3.10" fill="#14b4c1" stroke="none" stroke-width="1" />
<circle cx="671.80" cy="411.80" r="3.10" fill="#14b4c1" stroke="none" stroke-width="1" />
<circle cx="671.80" cy="415.90" r="3.10" fill="#14b4c1" stroke="none" stroke-width="1" />
<line x1="666.00" y1="401.60" x2="678.00" y2="401.60" stroke="#000" stroke-width="1.3" />
<line x1="671.80" y1="397.20" x2="671.80" y2="406.30" stroke="#000" stroke-width="1.3" />
<line x1="669.00" y1="397.20" x2="674.60" y2="397.20" stroke="#000" stroke-width="1.3" />
<line x1="669.00" y1="406.30" x2="674.60" y2="406.30" stroke="#000" stroke-width="1.3" />
<text x="642.50" y="460.00" font-size="10.5" text-anchor="middle" fill="#231f20" font-weight="normal" >120 mM KCl</text>
<text transform="translate(625.00,486.00) rotate(-45)" font-size="11" text-anchor="end" fill="#231f20">control</text>
<text transform="translate(675.80,485.00) rotate(-45)" font-size="11" text-anchor="end" fill="#1fa8d8">β-CD</text>
<defs>
<radialGradient id="rs" cx="0.38" cy="0.35" r="0.7"><stop offset="0" stop-color="#ff6b6b"/><stop offset="0.45" stop-color="#e8192c"/><stop offset="1" stop-color="#a00a18"/></radialGradient>
<radialGradient id="ks" cx="0.38" cy="0.35" r="0.7"><stop offset="0" stop-color="#5a5a5a"/><stop offset="0.4" stop-color="#1a1a1a"/><stop offset="1" stop-color="#000"/></radialGradient>
</defs>
<path d="M42.5,388.5 C41.4,389.8 37.5,393.9 36.0,396.0 C34.5,398.1 34.7,399.2 33.7,401.0 C32.7,402.8 30.9,405.2 30.0,407.0 C29.1,408.8 28.7,410.2 28.0,412.0 C27.3,413.8 26.6,416.2 26.0,418.0 C25.4,419.8 24.8,422.2 24.5,423.0" stroke="#a8a8a8" stroke-width="1.6" fill="none" stroke-linecap="round" stroke-linejoin="round"/>
<path d="M31.0,404.0 C31.5,404.5 34.2,405.8 34.0,407.0 C33.8,408.2 30.7,410.3 30.0,411.0" stroke="#a8a8a8" stroke-width="1.2" fill="none" stroke-linecap="round" stroke-linejoin="round"/>
<path d="M78.0,397.0 C77.0,397.7 74.0,400.0 72.0,401.0 C70.0,402.0 67.0,402.7 66.0,403.0" stroke="#b0b0b0" stroke-width="1.8" fill="none" stroke-linecap="round" stroke-linejoin="round"/>
<path d="M27.0,341.0 C25.5,343.3 20.8,350.5 18.0,355.0 C15.2,359.5 11.8,364.2 10.0,368.0 C8.2,371.8 6.7,374.5 7.0,378.0 C7.3,381.5 9.8,386.2 12.0,389.0 C14.2,391.8 18.7,394.0 20.0,395.0" stroke="#8a8a8a" stroke-width="7.2" fill="none" stroke-linecap="round" opacity="0.85"/>
<path d="M32.5,344.5 L31.6,345.8 Q25.3,343.6 17.7,343.4 L21.3,337.9 Q27.5,340.2 32.5,344.5 Z" fill="#8a8a8a" stroke="#555555" stroke-width="0.5"/>
<path d="M29.2,349.6 L25.6,355.1 Q19.3,353.0 11.7,352.9 L15.4,347.0 Q22.9,347.3 29.2,349.6 Z" fill="#8a8a8a" stroke="#555555" stroke-width="0.5"/>
<path d="M23.4,358.7 L19.9,364.4 Q13.5,362.3 5.9,362.2 L9.4,356.5 Q17.0,356.6 23.4,358.7 Z" fill="#8a8a8a" stroke="#555555" stroke-width="0.5"/>
<path d="M17.6,368.0 L15.4,372.6 Q9.0,372.2 1.4,373.9 L3.3,367.6 Q11.0,366.7 17.6,368.0 Z" fill="#8a8a8a" stroke="#555555" stroke-width="0.5"/>
<path d="M14.2,376.7 L14.3,378.3 Q9.4,382.3 4.7,388.7 L1.9,382.5 Q8.0,378.4 14.2,376.7 Z" fill="#8a8a8a" stroke="#555555" stroke-width="0.5"/>
<path d="M16.0,382.2 L17.7,385.2 Q15.4,391.0 14.3,398.8 L8.5,394.5 Q11.7,387.3 16.0,382.2 Z" fill="#8a8a8a" stroke="#555555" stroke-width="0.5"/>
<path d="M21.1,387.7 L23.9,389.8 Q19.0,394.3 16.1,400.2 L16.1,400.2 Q17.6,393.2 21.1,387.7 Z" fill="#8a8a8a" stroke="#555555" stroke-width="0.5"/>
<path d="M21.5,337.5 L21.5,337.5 Q26.6,341.6 31.6,345.8 L32.5,344.5 Q27.0,341.0 21.5,337.5 Z" fill="#bdbdbd" stroke="#555555" stroke-width="0.5"/>
<path d="M21.5,337.5 L17.7,343.4 Q20.6,351.0 25.6,355.1 L29.5,349.2 Q24.4,345.0 21.5,337.5 Z" fill="#bdbdbd" stroke="#555555" stroke-width="0.5"/>
<path d="M15.5,346.8 L11.7,352.9 Q14.7,360.3 19.9,364.4 L23.5,358.5 Q18.4,354.3 15.5,346.8 Z" fill="#bdbdbd" stroke="#555555" stroke-width="0.5"/>
<path d="M9.6,356.3 L5.9,362.2 Q9.6,369.1 15.4,372.6 L17.8,367.8 Q12.6,363.7 9.6,356.3 Z" fill="#bdbdbd" stroke="#555555" stroke-width="0.5"/>
<path d="M3.4,367.2 L1.4,373.9 Q7.3,378.0 14.3,378.3 L14.3,376.2 Q8.3,373.6 3.4,367.2 Z" fill="#bdbdbd" stroke="#555555" stroke-width="0.5"/>
<path d="M1.8,382.3 L4.7,388.7 Q12.0,388.8 17.7,385.2 L15.9,382.0 Q9.7,383.9 1.8,382.3 Z" fill="#bdbdbd" stroke="#555555" stroke-width="0.5"/>
<path d="M8.1,394.1 L14.3,398.8 Q20.7,395.5 23.9,389.8 L20.9,387.5 Q16.1,392.0 8.1,394.1 Z" fill="#bdbdbd" stroke="#555555" stroke-width="0.5"/>
<path d="M64.0,342.0 C62.5,343.3 58.0,347.2 55.0,350.0 C52.0,352.8 48.5,356.3 46.0,359.0 C43.5,361.7 41.0,364.8 40.0,366.0" stroke="#8a8a8a" stroke-width="6.6" fill="none" stroke-linecap="round" opacity="0.85"/>
<path d="M68.0,346.5 L66.9,347.5 Q61.7,344.0 54.8,342.2 L59.6,337.8 Q64.7,341.4 68.0,346.5 Z" fill="#8a8a8a" stroke="#555555" stroke-width="0.5"/>
<path d="M63.5,350.5 L58.8,354.7 Q53.5,351.6 46.4,350.1 L51.3,345.3 Q58.3,347.1 63.5,350.5 Z" fill="#8a8a8a" stroke="#555555" stroke-width="0.5"/>
<path d="M55.8,357.7 L51.0,362.5 Q45.7,359.6 38.6,358.4 L43.4,353.1 Q50.4,354.6 55.8,357.7 Z" fill="#8a8a8a" stroke="#555555" stroke-width="0.5"/>
<path d="M48.6,365.2 L44.6,369.9 Q40.8,365.1 35.4,362.1 L35.8,361.7 Q42.9,362.6 48.6,365.2 Z" fill="#8a8a8a" stroke="#555555" stroke-width="0.5"/>
<path d="M44.6,369.9 L44.6,369.9 Q40.0,366.0 35.4,362.1 L35.4,362.1 Q40.0,366.0 44.6,369.9 Z" fill="#8a8a8a" stroke="#555555" stroke-width="0.5"/>
<path d="M60.0,337.5 L60.0,337.5 Q63.4,342.5 66.9,347.5 L68.0,346.5 Q64.0,342.0 60.0,337.5 Z" fill="#bdbdbd" stroke="#555555" stroke-width="0.5"/>
<path d="M60.0,337.5 L54.8,342.2 Q55.3,349.8 58.8,354.7 L63.9,350.2 Q60.4,345.2 60.0,337.5 Z" fill="#bdbdbd" stroke="#555555" stroke-width="0.5"/>
<path d="M51.7,344.9 L46.4,350.1 Q47.3,357.7 51.0,362.5 L56.0,357.5 Q52.4,352.6 51.7,344.9 Z" fill="#bdbdbd" stroke="#555555" stroke-width="0.5"/>
<path d="M43.6,353.0 L38.6,358.4 Q40.2,365.6 44.6,369.9 L48.7,365.0 Q44.8,360.5 43.6,353.0 Z" fill="#bdbdbd" stroke="#555555" stroke-width="0.5"/>
<path d="M35.9,361.5 L35.4,362.1 Q38.7,367.5 44.6,369.9 L44.6,369.9 Q38.9,367.2 35.9,361.5 Z" fill="#bdbdbd" stroke="#555555" stroke-width="0.5"/>
<path d="M72.0,338.0 C72.2,341.7 72.8,353.0 73.0,360.0 C73.2,367.0 73.5,373.5 73.5,380.0 C73.5,386.5 73.1,395.8 73.0,399.0" stroke="#8a8a8a" stroke-width="7.7" fill="none" stroke-linecap="round" opacity="0.85"/>
<path d="M79.0,337.7 L79.1,339.2 Q72.1,341.1 65.3,345.3 L65.0,338.8 Q72.0,337.1 79.0,337.7 Z" fill="#8a8a8a" stroke="#555555" stroke-width="0.5"/>
<path d="M79.3,343.7 L79.6,350.2 Q72.6,352.1 65.8,356.3 L65.5,349.8 Q72.3,345.6 79.3,343.7 Z" fill="#8a8a8a" stroke="#555555" stroke-width="0.5"/>
<path d="M79.8,354.7 L80.0,361.3 Q73.1,363.1 66.2,367.2 L66.0,360.7 Q72.8,356.5 79.8,354.7 Z" fill="#8a8a8a" stroke="#555555" stroke-width="0.5"/>
<path d="M80.1,365.8 L80.3,372.3 Q73.4,374.1 66.5,378.2 L66.3,371.7 Q73.2,367.6 80.1,365.8 Z" fill="#8a8a8a" stroke="#555555" stroke-width="0.5"/>
<path d="M80.4,376.8 L80.4,383.7 Q73.3,385.1 66.3,388.8 L66.4,382.3 Q73.4,378.4 80.4,376.8 Z" fill="#8a8a8a" stroke="#555555" stroke-width="0.5"/>
<path d="M80.3,388.2 L80.1,394.7 Q73.1,395.6 66.0,398.8 L66.1,393.3 Q73.2,389.6 80.3,388.2 Z" fill="#8a8a8a" stroke="#555555" stroke-width="0.5"/>
<path d="M80.0,399.2 L80.0,399.2 Q73.0,399.0 66.0,398.8 L66.0,398.8 Q73.0,399.0 80.0,399.2 Z" fill="#8a8a8a" stroke="#555555" stroke-width="0.5"/>
<path d="M65.0,338.3 L65.0,338.3 Q72.0,338.8 79.1,339.2 L79.0,337.7 Q72.0,338.0 65.0,338.3 Z" fill="#bdbdbd" stroke="#555555" stroke-width="0.5"/>
<path d="M65.0,338.3 L65.3,345.3 Q72.5,349.7 79.6,350.2 L79.2,343.2 Q72.2,342.7 65.0,338.3 Z" fill="#bdbdbd" stroke="#555555" stroke-width="0.5"/>
<path d="M65.5,349.3 L65.8,356.3 Q73.0,360.8 80.0,361.3 L79.7,354.2 Q72.7,353.7 65.5,349.3 Z" fill="#bdbdbd" stroke="#555555" stroke-width="0.5"/>
<path d="M66.0,360.2 L66.2,367.2 Q73.3,371.7 80.3,372.3 L80.1,365.3 Q73.1,364.8 66.0,360.2 Z" fill="#bdbdbd" stroke="#555555" stroke-width="0.5"/>
<path d="M66.3,371.2 L66.5,378.2 Q73.5,382.9 80.4,383.7 L80.4,376.3 Q73.4,375.7 66.3,371.2 Z" fill="#bdbdbd" stroke="#555555" stroke-width="0.5"/>
<path d="M66.4,381.8 L66.3,388.8 Q73.1,393.7 80.1,394.7 L80.3,387.7 Q73.3,386.7 66.4,381.8 Z" fill="#bdbdbd" stroke="#555555" stroke-width="0.5"/>
<path d="M66.2,392.8 L66.0,398.8 Q72.9,401.0 80.0,399.2 L80.0,398.7 Q73.0,397.7 66.2,392.8 Z" fill="#bdbdbd" stroke="#555555" stroke-width="0.5"/>
<path d="M51.0,300.0 C52.2,302.0 55.7,307.8 58.0,312.0 C60.3,316.2 62.8,320.7 65.0,325.0 C67.2,329.3 70.0,335.8 71.0,338.0" stroke="#8a8a8a" stroke-width="6.6" fill="none" stroke-linecap="round" opacity="0.85"/>
<path d="M56.2,297.0 L58.5,300.9 Q54.1,305.3 50.9,311.8 L47.6,306.1 Q51.3,300.5 56.2,297.0 Z" fill="#8a8a8a" stroke="#555555" stroke-width="0.5"/>
<path d="M60.6,304.6 L64.1,310.7 Q59.5,314.9 56.2,321.2 L53.0,315.3 Q56.2,308.9 60.6,304.6 Z" fill="#8a8a8a" stroke="#555555" stroke-width="0.5"/>
<path d="M66.1,314.4 L69.3,320.4 Q64.6,324.5 61.0,330.7 L58.2,325.0 Q61.6,318.7 66.1,314.4 Z" fill="#8a8a8a" stroke="#555555" stroke-width="0.5"/>
<path d="M71.4,324.5 L74.2,330.7 Q69.4,334.5 65.6,340.5 L62.8,334.6 Q66.6,328.5 71.4,324.5 Z" fill="#8a8a8a" stroke="#555555" stroke-width="0.5"/>
<path d="M76.0,334.6 L76.4,335.5 Q70.5,336.9 65.6,340.5 L65.6,340.5 Q70.3,336.5 76.0,334.6 Z" fill="#8a8a8a" stroke="#555555" stroke-width="0.5"/>
<path d="M45.8,303.0 L45.8,303.0 Q52.1,302.0 58.5,300.9 L56.2,297.0 Q51.0,300.0 45.8,303.0 Z" fill="#bdbdbd" stroke="#555555" stroke-width="0.5"/>
<path d="M47.3,305.6 L50.9,311.8 Q58.5,313.0 64.1,310.7 L60.5,304.4 Q54.9,306.7 47.3,305.6 Z" fill="#bdbdbd" stroke="#555555" stroke-width="0.5"/>
<path d="M52.9,315.1 L56.2,321.2 Q63.7,322.6 69.3,320.4 L66.0,314.2 Q60.4,316.4 52.9,315.1 Z" fill="#bdbdbd" stroke="#555555" stroke-width="0.5"/>
<path d="M58.1,324.8 L61.0,330.7 Q68.5,332.5 74.2,330.7 L71.3,324.3 Q65.6,326.3 58.1,324.8 Z" fill="#bdbdbd" stroke="#555555" stroke-width="0.5"/>
<path d="M62.7,334.4 L65.6,340.5 Q71.8,339.8 76.4,335.5 L75.9,334.3 Q70.2,336.2 62.7,334.4 Z" fill="#bdbdbd" stroke="#555555" stroke-width="0.5"/>
<path d="M81.0,305.0 C79.8,307.2 76.3,313.8 74.0,318.0 C71.7,322.2 69.2,325.8 67.0,330.0 C64.8,334.2 62.0,340.8 61.0,343.0" stroke="#8a8a8a" stroke-width="6.6" fill="none" stroke-linecap="round" opacity="0.85"/>
<path d="M85.8,308.7 L82.7,314.5 Q76.7,313.0 69.5,313.6 L72.6,307.9 Q79.8,307.2 85.8,308.7 Z" fill="#8a8a8a" stroke="#555555" stroke-width="0.5"/>
<path d="M80.6,318.4 L77.3,324.3 Q71.3,322.6 64.1,323.0 L67.4,317.4 Q74.6,316.9 80.6,318.4 Z" fill="#8a8a8a" stroke="#555555" stroke-width="0.5"/>
<path d="M75.1,328.0 L72.0,333.5 Q66.0,332.4 58.8,333.4 L61.8,327.0 Q69.1,326.4 75.1,328.0 Z" fill="#8a8a8a" stroke="#555555" stroke-width="0.5"/>
<path d="M70.2,337.3 L67.4,343.5 Q62.0,340.9 55.6,340.5 L57.0,337.3 Q64.1,336.2 70.2,337.3 Z" fill="#8a8a8a" stroke="#555555" stroke-width="0.5"/>
<path d="M66.4,345.5 L66.4,345.5 Q61.0,343.0 55.6,340.5 L55.6,340.5 Q61.0,343.0 66.4,345.5 Z" fill="#8a8a8a" stroke="#555555" stroke-width="0.5"/>
<path d="M75.7,302.2 L74.8,303.9 Q77.8,310.9 82.7,314.5 L86.0,308.3 Q79.9,307.0 75.7,302.2 Z" fill="#bdbdbd" stroke="#555555" stroke-width="0.5"/>
<path d="M72.9,307.4 L69.5,313.6 Q72.5,320.7 77.3,324.3 L80.8,318.0 Q75.9,314.5 72.9,307.4 Z" fill="#bdbdbd" stroke="#555555" stroke-width="0.5"/>
<path d="M67.7,316.9 L64.1,323.0 Q67.0,330.0 72.0,333.5 L75.2,327.8 Q70.4,324.1 67.7,316.9 Z" fill="#bdbdbd" stroke="#555555" stroke-width="0.5"/>
<path d="M62.0,326.7 L58.8,333.4 Q62.3,340.2 67.4,343.5 L70.3,337.1 Q65.3,333.7 62.0,326.7 Z" fill="#bdbdbd" stroke="#555555" stroke-width="0.5"/>
<path d="M57.1,337.1 L55.6,340.5 Q60.2,344.8 66.4,345.5 L66.4,345.5 Q61.0,343.1 57.1,337.1 Z" fill="#bdbdbd" stroke="#555555" stroke-width="0.5"/>
<path d="M66.0,291.0 C67.2,291.3 70.8,292.2 73.0,293.0 C75.2,293.8 77.5,294.7 79.0,296.0 C80.5,297.3 81.5,300.2 82.0,301.0" stroke="#888" stroke-width="1.8" fill="none" stroke-linecap="round" stroke-linejoin="round"/>
<path d="M17.0,262.0 C17.3,261.0 17.5,257.3 19.0,256.0 C20.5,254.7 23.8,254.0 26.0,254.0 C28.2,254.0 31.0,255.7 32.0,256.0" stroke="#999" stroke-width="2" fill="none" stroke-linecap="round" stroke-linejoin="round"/>
<path d="M17.0,262.0 C16.2,263.7 13.0,268.7 12.0,272.0 C11.0,275.3 10.7,278.7 11.0,282.0 C11.3,285.3 12.8,289.5 14.0,292.0 C15.2,294.5 17.3,296.2 18.0,297.0" stroke="#a0a0a0" stroke-width="4" fill="none" stroke-linecap="round" stroke-linejoin="round"/>
<path d="M21.0,257.0 C21.7,260.0 23.8,268.8 25.0,275.0 C26.2,281.2 27.0,287.3 28.3,294.5 C29.6,301.7 31.4,310.1 33.0,318.0 C34.6,325.9 36.3,334.7 37.8,341.7 C39.3,348.7 40.5,353.8 42.0,360.0 C43.5,366.2 44.8,373.2 47.0,379.0 C49.2,384.8 51.8,390.0 55.0,395.0 C58.2,400.0 62.0,404.0 66.0,409.0 C70.0,414.0 76.8,422.3 79.0,425.0" stroke="#22903e" stroke-width="6.3" fill="none" stroke-linecap="round" opacity="0.85"/>
<path d="M26.6,255.8 L26.8,256.7 Q21.6,259.5 16.8,264.7 L15.5,258.7 Q20.8,256.1 26.6,255.8 Z" fill="#22903e" stroke="#18702e" stroke-width="0.5"/>
<path d="M27.9,261.4 L29.2,267.6 Q24.0,270.3 19.2,275.4 L17.9,269.3 Q22.6,264.2 27.9,261.4 Z" fill="#22903e" stroke="#18702e" stroke-width="0.5"/>
<path d="M30.3,272.3 L31.5,278.7 Q26.0,281.2 21.0,286.1 L20.0,279.9 Q24.9,274.9 30.3,272.3 Z" fill="#22903e" stroke="#18702e" stroke-width="0.5"/>
<path d="M32.3,283.4 L33.3,289.6 Q27.9,292.2 23.0,297.1 L21.8,290.8 Q26.8,285.9 32.3,283.4 Z" fill="#22903e" stroke="#18702e" stroke-width="0.5"/>
<path d="M34.1,294.2 L35.3,300.1 Q29.9,302.7 25.1,307.7 L23.9,301.8 Q28.8,296.8 34.1,294.2 Z" fill="#22903e" stroke="#18702e" stroke-width="0.5"/>
<path d="M36.2,304.8 L37.5,310.9 Q32.1,313.6 27.3,318.6 L26.0,312.4 Q30.9,307.4 36.2,304.8 Z" fill="#22903e" stroke="#18702e" stroke-width="0.5"/>
<path d="M38.4,315.6 L39.6,321.8 Q34.3,324.4 29.4,329.3 L28.2,323.3 Q33.1,318.3 38.4,315.6 Z" fill="#22903e" stroke="#18702e" stroke-width="0.5"/>
<path d="M40.6,326.5 L41.8,332.4 Q36.5,335.1 31.6,340.1 L30.4,334.2 Q35.3,329.2 40.6,326.5 Z" fill="#22903e" stroke="#18702e" stroke-width="0.5"/>
<path d="M42.7,337.1 L44.0,343.1 Q38.8,345.9 34.0,351.0 L32.6,344.9 Q37.4,339.8 42.7,337.1 Z" fill="#22903e" stroke="#18702e" stroke-width="0.5"/>
<path d="M45.1,347.7 L46.5,353.8 Q41.2,356.7 36.6,361.9 L35.1,355.7 Q39.8,350.5 45.1,347.7 Z" fill="#22903e" stroke="#18702e" stroke-width="0.5"/>
<path d="M47.5,358.4 L49.1,364.4 Q43.9,367.4 39.4,372.7 L37.8,366.6 Q42.4,361.3 47.5,358.4 Z" fill="#22903e" stroke="#18702e" stroke-width="0.5"/>
<path d="M50.3,369.0 L51.9,374.9 Q47.2,378.3 43.1,384.1 L40.6,377.3 Q45.2,372.0 50.3,369.0 Z" fill="#22903e" stroke="#18702e" stroke-width="0.5"/>
<path d="M53.0,378.2 L55.9,383.9 Q51.4,387.8 48.1,394.0 L45.2,388.3 Q48.6,382.2 53.0,378.2 Z" fill="#22903e" stroke="#18702e" stroke-width="0.5"/>
<path d="M58.0,388.1 L60.5,392.6 Q57.1,397.3 54.8,404.1 L50.8,398.9 Q53.8,392.5 58.0,388.1 Z" fill="#22903e" stroke="#18702e" stroke-width="0.5"/>
<path d="M63.4,396.4 L67.3,401.3 Q63.7,406.1 61.7,412.8 L57.8,407.8 Q59.8,401.2 63.4,396.4 Z" fill="#22903e" stroke="#18702e" stroke-width="0.5"/>
<path d="M70.2,405.0 L74.0,409.7 Q70.5,414.5 68.5,421.2 L64.7,416.5 Q66.7,409.8 70.2,405.0 Z" fill="#22903e" stroke="#18702e" stroke-width="0.5"/>
<path d="M77.1,413.6 L80.9,418.3 Q77.0,422.5 74.5,428.6 L71.5,424.9 Q73.6,418.3 77.1,413.6 Z" fill="#22903e" stroke="#18702e" stroke-width="0.5"/>
<path d="M83.5,421.4 L83.5,421.4 Q79.0,425.0 74.5,428.6 L74.5,428.6 Q79.0,425.0 83.5,421.4 Z" fill="#22903e" stroke="#18702e" stroke-width="0.5"/>
<path d="M15.4,258.2 L15.4,258.2 Q21.1,257.5 26.8,256.7 L26.6,255.8 Q21.0,257.0 15.4,258.2 Z" fill="#40b85c" stroke="#18702e" stroke-width="0.5"/>
<path d="M15.4,258.2 L16.8,264.7 Q23.5,268.1 29.2,267.6 L27.8,261.2 Q22.0,261.7 15.4,258.2 Z" fill="#40b85c" stroke="#18702e" stroke-width="0.5"/>
<path d="M17.8,269.1 L19.2,275.4 Q25.8,279.0 31.5,278.7 L30.2,272.0 Q24.4,272.5 17.8,269.1 Z" fill="#40b85c" stroke="#18702e" stroke-width="0.5"/>
<path d="M20.0,279.7 L21.0,286.1 Q27.5,289.8 33.3,289.6 L32.2,283.2 Q26.4,283.4 20.0,279.7 Z" fill="#40b85c" stroke="#18702e" stroke-width="0.5"/>
<path d="M21.8,290.5 L23.0,297.1 Q29.5,300.6 35.3,300.1 L34.0,293.9 Q28.3,294.2 21.8,290.5 Z" fill="#40b85c" stroke="#18702e" stroke-width="0.5"/>
<path d="M23.8,301.3 L25.1,307.7 Q31.7,311.3 37.5,310.9 L36.2,304.5 Q30.4,304.9 23.8,301.3 Z" fill="#40b85c" stroke="#18702e" stroke-width="0.5"/>
<path d="M26.0,312.2 L27.3,318.6 Q33.8,322.2 39.6,321.8 L38.3,315.4 Q32.6,315.8 26.0,312.2 Z" fill="#40b85c" stroke="#18702e" stroke-width="0.5"/>
<path d="M28.2,323.1 L29.4,329.3 Q36.0,332.8 41.8,332.4 L40.5,326.0 Q34.7,326.5 28.2,323.1 Z" fill="#40b85c" stroke="#18702e" stroke-width="0.5"/>
<path d="M30.3,333.7 L31.6,340.1 Q38.2,343.6 44.0,343.1 L42.7,336.9 Q36.9,337.2 30.3,333.7 Z" fill="#40b85c" stroke="#18702e" stroke-width="0.5"/>
<path d="M32.6,344.7 L34.0,351.0 Q40.7,354.4 46.5,353.8 L45.0,347.5 Q39.3,348.0 32.6,344.7 Z" fill="#40b85c" stroke="#18702e" stroke-width="0.5"/>
<path d="M35.1,355.4 L36.6,361.9 Q43.3,365.1 49.1,364.4 L47.5,358.2 Q41.7,358.7 35.1,355.4 Z" fill="#40b85c" stroke="#18702e" stroke-width="0.5"/>
<path d="M37.7,366.3 L39.4,372.7 Q46.1,375.7 51.9,374.9 L50.3,368.8 Q44.5,369.5 37.7,366.3 Z" fill="#40b85c" stroke="#18702e" stroke-width="0.5"/>
<path d="M40.5,376.8 L43.1,384.1 Q50.2,385.8 55.9,383.9 L52.9,378.0 Q47.4,379.3 40.5,376.8 Z" fill="#40b85c" stroke="#18702e" stroke-width="0.5"/>
<path d="M45.1,388.1 L48.1,394.0 Q55.1,395.1 60.5,392.6 L57.9,387.9 Q52.4,389.8 45.1,388.1 Z" fill="#40b85c" stroke="#18702e" stroke-width="0.5"/>
<path d="M50.6,398.6 L54.8,404.1 Q62.3,404.3 67.3,401.3 L63.2,396.2 Q58.1,399.0 50.6,398.6 Z" fill="#40b85c" stroke="#18702e" stroke-width="0.5"/>
<path d="M57.6,407.6 L61.7,412.8 Q69.0,412.8 74.0,409.7 L70.0,404.8 Q65.1,407.8 57.6,407.6 Z" fill="#40b85c" stroke="#18702e" stroke-width="0.5"/>
<path d="M64.4,416.1 L68.5,421.2 Q76.0,421.3 80.9,418.3 L76.8,413.2 Q71.9,416.2 64.4,416.1 Z" fill="#40b85c" stroke="#18702e" stroke-width="0.5"/>
<path d="M71.4,424.7 L74.5,428.6 Q80.3,426.6 83.5,421.4 L83.5,421.4 Q78.7,424.6 71.4,424.7 Z" fill="#40b85c" stroke="#18702e" stroke-width="0.5"/>
<path d="M35.0,304.0 L40.0,296.0 L48.0,295.0" stroke="#3f52c0" stroke-width="1.3" fill="none" stroke-linejoin="round" stroke-linecap="round"/>
<path d="M34.0,306.0 L36.0,309.0" stroke="#3a4fc0" stroke-width="4" fill="none" stroke-linejoin="round" stroke-linecap="round"/>
<path d="M38.0,336.0 L44.0,326.0 L49.0,327.0" stroke="#3f52c0" stroke-width="1.3" fill="none" stroke-linejoin="round" stroke-linecap="round"/>
<path d="M37.0,338.0 L39.0,340.0" stroke="#3a4fc0" stroke-width="4" fill="none" stroke-linejoin="round" stroke-linecap="round"/>
<path d="M44.0,348.0 L46.0,340.0 L51.0,339.0" stroke="#3f52c0" stroke-width="1.3" fill="none" stroke-linejoin="round" stroke-linecap="round"/>
<path d="M39.0,353.0 L42.0,345.0" stroke="#3f52c0" stroke-width="1.3" fill="none" stroke-linejoin="round" stroke-linecap="round"/>
<path d="M36.0,375.0 L40.0,368.0 L44.0,370.0" stroke="#3f52c0" stroke-width="1.3" fill="none" stroke-linejoin="round" stroke-linecap="round"/>
<path d="M39.0,380.0 L43.0,384.0 L46.0,384.0" stroke="#3f52c0" stroke-width="1.3" fill="none" stroke-linejoin="round" stroke-linecap="round"/>
<path d="M41.0,363.0 L44.0,366.0" stroke="#3a4fc0" stroke-width="4" fill="none" stroke-linejoin="round" stroke-linecap="round"/>
<path d="M38.0,382.0 L41.0,386.0" stroke="#3a4fc0" stroke-width="4" fill="none" stroke-linejoin="round" stroke-linecap="round"/>
<circle cx="27.5" cy="281" r="4.7" fill="url(#rs)" stroke="#900" stroke-width="0.5"/>
<circle cx="26.6" cy="278" r="4.7" fill="url(#rs)" stroke="#900" stroke-width="0.5"/>
<circle cx="29.5" cy="274" r="4.7" fill="url(#rs)" stroke="#900" stroke-width="0.5"/>
<circle cx="28" cy="270.6" r="4.7" fill="url(#rs)" stroke="#900" stroke-width="0.5"/>
<circle cx="36" cy="268.6" r="4.7" fill="url(#rs)" stroke="#900" stroke-width="0.5"/>
<circle cx="30.5" cy="263.2" r="4.7" fill="url(#rs)" stroke="#900" stroke-width="0.5"/>
<circle cx="56.5" cy="287.2" r="4.6" fill="url(#ks)" stroke="#000" stroke-width="0.5"/>
<circle cx="62" cy="292.4" r="4.6" fill="url(#ks)" stroke="#000" stroke-width="0.5"/>
<circle cx="67.5" cy="291.6" r="4.6" fill="url(#ks)" stroke="#000" stroke-width="0.5"/>
<circle cx="63.5" cy="284.7" r="4.6" fill="url(#ks)" stroke="#000" stroke-width="0.5"/>
<path d="M60.0,291.0 L63.0,284.0 L66.0,292.0" stroke="#bbb" stroke-width="0.6" fill="none" stroke-linejoin="round" stroke-linecap="round"/>
</svg>
</body></html>
